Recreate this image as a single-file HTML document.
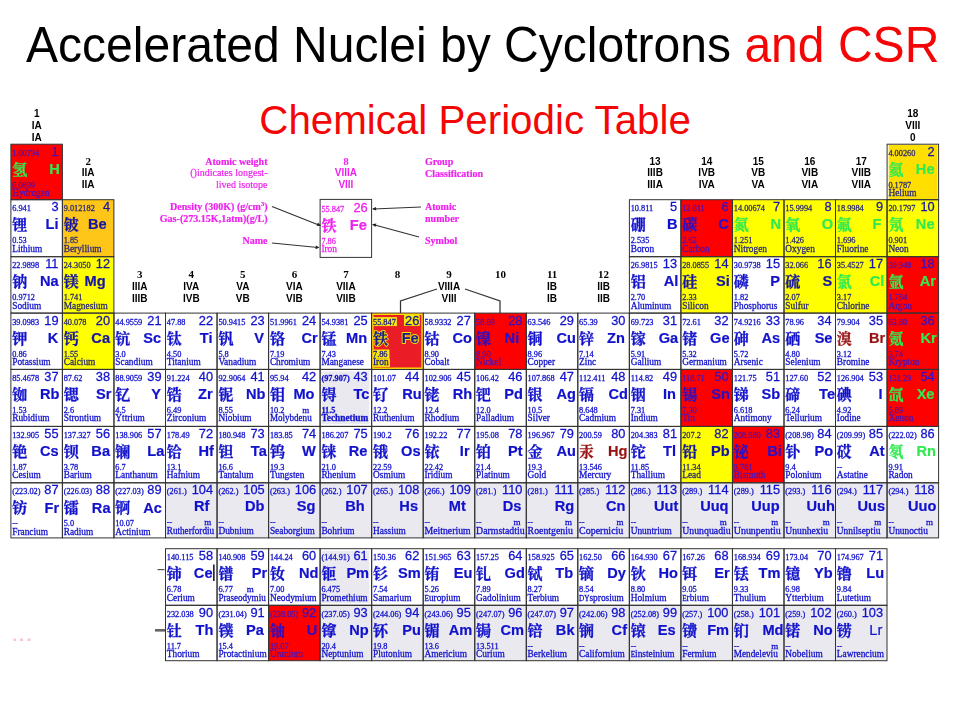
<!DOCTYPE html>
<html><head><meta charset="utf-8"><title>Accelerated Nuclei by Cyclotrons and CSR</title>
<style>
html,body{margin:0;padding:0;background:#fff;}
body{width:960px;height:720px;position:relative;overflow:hidden;font-family:"Liberation Sans",sans-serif;}
.t{position:absolute;white-space:nowrap;line-height:1;}
</style></head><body>
<div class="t" style="left:25.7px;top:20.3px;font-size:49.5px;color:#000;transform-origin:0 0;transform:scaleX(0.9707)">Accelerated Nuclei by Cyclotrons <span style="color:#f40606">and CSR</span></div>
<div class="t" style="left:259.3px;top:101.2px;font-size:40.3px;color:#f40606;">Chemical Periodic Table</div>
<svg width="960" height="720" viewBox="0 0 960 720" style="position:absolute;left:0;top:0;filter:blur(0.4px)"><rect x="10.9" y="144.2" width="51.5" height="55.5" fill="#ff0000"/><rect x="888.7" y="144.8" width="48.9" height="54.3" fill="#ffdf00"/><rect x="62.4" y="199.7" width="51.5" height="57" fill="#ffc61a"/><rect x="680.9" y="199.7" width="51.5" height="57" fill="#ff0000"/><rect x="732.5" y="199.7" width="51.5" height="57" fill="#ffff00"/><rect x="784" y="199.7" width="51.5" height="57" fill="#ffff00"/><rect x="835.5" y="199.7" width="51.5" height="57" fill="#ffff00"/><rect x="887.1" y="199.7" width="51.5" height="57" fill="#ffff00"/><rect x="62.4" y="256.7" width="51.5" height="56.4" fill="#ffff00"/><rect x="680.9" y="256.7" width="51.5" height="56.4" fill="#ffff00"/><rect x="784" y="256.7" width="51.5" height="56.4" fill="#ffff00"/><rect x="835.5" y="256.7" width="51.5" height="56.4" fill="#ffff00"/><rect x="887.1" y="256.7" width="51.5" height="56.4" fill="#ff0000"/><rect x="62.4" y="313.1" width="51.5" height="56.3" fill="#ffff00"/><rect x="371.7" y="313.1" width="51.5" height="56.3" fill="#ea1c26"/><rect x="474.8" y="313.1" width="51.5" height="56.3" fill="#ff0000"/><rect x="887.1" y="313.1" width="51.5" height="56.3" fill="#ff0000"/><rect x="321.5" y="371.4" width="47.9" height="52.8" fill="#eae9f0"/><rect x="680.9" y="369.4" width="51.5" height="57" fill="#ff0000"/><rect x="887.1" y="369.4" width="51.5" height="57" fill="#ff0000"/><rect x="680.9" y="426.4" width="51.5" height="56.4" fill="#ffff00"/><rect x="732.5" y="426.4" width="51.5" height="56.4" fill="#ff0000"/><rect x="165.5" y="482.8" width="51.5" height="55.1" fill="#eae9f0"/><rect x="217.1" y="482.8" width="51.5" height="55.1" fill="#eae9f0"/><rect x="268.6" y="482.8" width="51.5" height="55.1" fill="#eae9f0"/><rect x="320.1" y="482.8" width="51.5" height="55.1" fill="#eae9f0"/><rect x="371.7" y="482.8" width="51.5" height="55.1" fill="#eae9f0"/><rect x="423.2" y="482.8" width="51.5" height="55.1" fill="#eae9f0"/><rect x="474.8" y="482.8" width="51.5" height="55.1" fill="#eae9f0"/><rect x="526.3" y="482.8" width="51.5" height="55.1" fill="#eae9f0"/><rect x="577.8" y="482.8" width="51.5" height="55.1" fill="#eae9f0"/><rect x="629.4" y="482.8" width="51.5" height="55.1" fill="#eae9f0"/><rect x="680.9" y="482.8" width="51.5" height="55.1" fill="#eae9f0"/><rect x="732.5" y="482.8" width="51.5" height="55.1" fill="#eae9f0"/><rect x="784" y="482.8" width="51.5" height="55.1" fill="#eae9f0"/><rect x="835.5" y="482.8" width="51.5" height="55.1" fill="#eae9f0"/><rect x="887.1" y="482.8" width="51.5" height="55.1" fill="#eae9f0"/><rect x="321.5" y="550.7" width="47.9" height="52.4" fill="#eae9f0"/><rect x="268.6" y="605.3" width="51.5" height="55.4" fill="#ff0000"/><rect x="320.1" y="605.3" width="51.5" height="55.4" fill="#eae9f0"/><rect x="371.7" y="605.3" width="51.5" height="55.4" fill="#eae9f0"/><rect x="423.2" y="605.3" width="51.5" height="55.4" fill="#eae9f0"/><rect x="474.8" y="605.3" width="51.5" height="55.4" fill="#eae9f0"/><rect x="526.3" y="605.3" width="51.5" height="55.4" fill="#eae9f0"/><rect x="577.8" y="605.3" width="51.5" height="55.4" fill="#eae9f0"/><rect x="629.4" y="605.3" width="51.5" height="55.4" fill="#eae9f0"/><rect x="680.9" y="605.3" width="51.5" height="55.4" fill="#eae9f0"/><rect x="732.5" y="605.3" width="51.5" height="55.4" fill="#eae9f0"/><rect x="784" y="605.3" width="51.5" height="55.4" fill="#eae9f0"/><rect x="835.5" y="605.3" width="51.5" height="55.4" fill="#eae9f0"/><g fill="none" stroke="#333333" stroke-width="1"><rect x="10.9" y="144.2" width="51.5" height="55.5"/><rect x="887.1" y="144.2" width="51.5" height="55.5"/><rect x="10.9" y="199.7" width="51.5" height="57"/><rect x="62.4" y="199.7" width="51.5" height="57"/><rect x="629.4" y="199.7" width="51.5" height="57"/><rect x="680.9" y="199.7" width="51.5" height="57"/><rect x="732.5" y="199.7" width="51.5" height="57"/><rect x="784" y="199.7" width="51.5" height="57"/><rect x="835.5" y="199.7" width="51.5" height="57"/><rect x="887.1" y="199.7" width="51.5" height="57"/><rect x="10.9" y="256.7" width="51.5" height="56.4"/><rect x="62.4" y="256.7" width="51.5" height="56.4"/><rect x="629.4" y="256.7" width="51.5" height="56.4"/><rect x="680.9" y="256.7" width="51.5" height="56.4"/><rect x="732.5" y="256.7" width="51.5" height="56.4"/><rect x="784" y="256.7" width="51.5" height="56.4"/><rect x="835.5" y="256.7" width="51.5" height="56.4"/><rect x="887.1" y="256.7" width="51.5" height="56.4"/><rect x="10.9" y="313.1" width="51.5" height="56.3"/><rect x="62.4" y="313.1" width="51.5" height="56.3"/><rect x="114" y="313.1" width="51.5" height="56.3"/><rect x="165.5" y="313.1" width="51.5" height="56.3"/><rect x="217.1" y="313.1" width="51.5" height="56.3"/><rect x="268.6" y="313.1" width="51.5" height="56.3"/><rect x="320.1" y="313.1" width="51.5" height="56.3"/><rect x="371.7" y="313.1" width="51.5" height="56.3"/><rect x="423.2" y="313.1" width="51.5" height="56.3"/><rect x="474.8" y="313.1" width="51.5" height="56.3"/><rect x="526.3" y="313.1" width="51.5" height="56.3"/><rect x="577.8" y="313.1" width="51.5" height="56.3"/><rect x="629.4" y="313.1" width="51.5" height="56.3"/><rect x="680.9" y="313.1" width="51.5" height="56.3"/><rect x="732.5" y="313.1" width="51.5" height="56.3"/><rect x="784" y="313.1" width="51.5" height="56.3"/><rect x="835.5" y="313.1" width="51.5" height="56.3"/><rect x="887.1" y="313.1" width="51.5" height="56.3"/><rect x="10.9" y="369.4" width="51.5" height="57"/><rect x="62.4" y="369.4" width="51.5" height="57"/><rect x="114" y="369.4" width="51.5" height="57"/><rect x="165.5" y="369.4" width="51.5" height="57"/><rect x="217.1" y="369.4" width="51.5" height="57"/><rect x="268.6" y="369.4" width="51.5" height="57"/><rect x="320.1" y="369.4" width="51.5" height="57"/><rect x="371.7" y="369.4" width="51.5" height="57"/><rect x="423.2" y="369.4" width="51.5" height="57"/><rect x="474.8" y="369.4" width="51.5" height="57"/><rect x="526.3" y="369.4" width="51.5" height="57"/><rect x="577.8" y="369.4" width="51.5" height="57"/><rect x="629.4" y="369.4" width="51.5" height="57"/><rect x="680.9" y="369.4" width="51.5" height="57"/><rect x="732.5" y="369.4" width="51.5" height="57"/><rect x="784" y="369.4" width="51.5" height="57"/><rect x="835.5" y="369.4" width="51.5" height="57"/><rect x="887.1" y="369.4" width="51.5" height="57"/><rect x="10.9" y="426.4" width="51.5" height="56.4"/><rect x="62.4" y="426.4" width="51.5" height="56.4"/><rect x="114" y="426.4" width="51.5" height="56.4"/><rect x="165.5" y="426.4" width="51.5" height="56.4"/><rect x="217.1" y="426.4" width="51.5" height="56.4"/><rect x="268.6" y="426.4" width="51.5" height="56.4"/><rect x="320.1" y="426.4" width="51.5" height="56.4"/><rect x="371.7" y="426.4" width="51.5" height="56.4"/><rect x="423.2" y="426.4" width="51.5" height="56.4"/><rect x="474.8" y="426.4" width="51.5" height="56.4"/><rect x="526.3" y="426.4" width="51.5" height="56.4"/><rect x="577.8" y="426.4" width="51.5" height="56.4"/><rect x="629.4" y="426.4" width="51.5" height="56.4"/><rect x="680.9" y="426.4" width="51.5" height="56.4"/><rect x="732.5" y="426.4" width="51.5" height="56.4"/><rect x="784" y="426.4" width="51.5" height="56.4"/><rect x="835.5" y="426.4" width="51.5" height="56.4"/><rect x="887.1" y="426.4" width="51.5" height="56.4"/><rect x="10.9" y="482.8" width="51.5" height="55.1"/><rect x="62.4" y="482.8" width="51.5" height="55.1"/><rect x="114" y="482.8" width="51.5" height="55.1"/><rect x="165.5" y="482.8" width="51.5" height="55.1"/><rect x="217.1" y="482.8" width="51.5" height="55.1"/><rect x="268.6" y="482.8" width="51.5" height="55.1"/><rect x="320.1" y="482.8" width="51.5" height="55.1"/><rect x="371.7" y="482.8" width="51.5" height="55.1"/><rect x="423.2" y="482.8" width="51.5" height="55.1"/><rect x="474.8" y="482.8" width="51.5" height="55.1"/><rect x="526.3" y="482.8" width="51.5" height="55.1"/><rect x="577.8" y="482.8" width="51.5" height="55.1"/><rect x="629.4" y="482.8" width="51.5" height="55.1"/><rect x="680.9" y="482.8" width="51.5" height="55.1"/><rect x="732.5" y="482.8" width="51.5" height="55.1"/><rect x="784" y="482.8" width="51.5" height="55.1"/><rect x="835.5" y="482.8" width="51.5" height="55.1"/><rect x="887.1" y="482.8" width="51.5" height="55.1"/><rect x="165.5" y="548.7" width="51.5" height="56.6"/><rect x="217.1" y="548.7" width="51.5" height="56.6"/><rect x="268.6" y="548.7" width="51.5" height="56.6"/><rect x="320.1" y="548.7" width="51.5" height="56.6"/><rect x="371.7" y="548.7" width="51.5" height="56.6"/><rect x="423.2" y="548.7" width="51.5" height="56.6"/><rect x="474.8" y="548.7" width="51.5" height="56.6"/><rect x="526.3" y="548.7" width="51.5" height="56.6"/><rect x="577.8" y="548.7" width="51.5" height="56.6"/><rect x="629.4" y="548.7" width="51.5" height="56.6"/><rect x="680.9" y="548.7" width="51.5" height="56.6"/><rect x="732.5" y="548.7" width="51.5" height="56.6"/><rect x="784" y="548.7" width="51.5" height="56.6"/><rect x="835.5" y="548.7" width="51.5" height="56.6"/><rect x="165.5" y="605.3" width="51.5" height="55.4"/><rect x="217.1" y="605.3" width="51.5" height="55.4"/><rect x="268.6" y="605.3" width="51.5" height="55.4"/><rect x="320.1" y="605.3" width="51.5" height="55.4"/><rect x="371.7" y="605.3" width="51.5" height="55.4"/><rect x="423.2" y="605.3" width="51.5" height="55.4"/><rect x="474.8" y="605.3" width="51.5" height="55.4"/><rect x="526.3" y="605.3" width="51.5" height="55.4"/><rect x="577.8" y="605.3" width="51.5" height="55.4"/><rect x="629.4" y="605.3" width="51.5" height="55.4"/><rect x="680.9" y="605.3" width="51.5" height="55.4"/><rect x="732.5" y="605.3" width="51.5" height="55.4"/><rect x="784" y="605.3" width="51.5" height="55.4"/><rect x="835.5" y="605.3" width="51.5" height="55.4"/></g><rect x="372.9" y="314.3" width="49.1" height="53.9" fill="none" stroke="#f5e000" stroke-width="1.4"/><g fill="#4a14b8" stroke="#4a14b8" stroke-width="0.28"><text x="12.2" y="155.8" font-family="Liberation Serif" font-size="8.3">1.00794</text><text x="58.5" y="155.7" font-family="Liberation Sans" font-size="12.8" stroke-width="0.28" text-anchor="end" fill="#3a12c0" stroke="#3a12c0">1</text><text x="12.2" y="187.6" font-family="Liberation Serif" font-size="8.3">0.0899</text><text x="12.2" y="196" font-family="Liberation Serif" font-size="9.35">Hydrogen</text></g><g fill="#30ea50" stroke="#30ea50" stroke-width="0.2"><text x="59.8" y="173.9" font-family="Liberation Sans" font-size="14.6" font-weight="bold" text-anchor="end">H</text><text x="12.2" y="174.6" font-family="'Liberation Serif','Noto Serif CJK SC',serif" font-size="15" font-weight="bold" stroke-width="0.3">氢</text></g><g fill="#2a2a78" stroke="#2a2a78" stroke-width="0.28"><text x="888.4" y="155.8" font-family="Liberation Serif" font-size="8.3">4.00260</text><text x="934.7" y="155.7" font-family="Liberation Sans" font-size="12.8" stroke-width="0.28" text-anchor="end" fill="#1616a4" stroke="#1616a4">2</text><text x="888.4" y="187.6" font-family="Liberation Serif" font-size="8.3">0.1787</text><text x="888.4" y="196" font-family="Liberation Serif" font-size="9.35">Helium</text></g><g fill="#30ea50" stroke="#30ea50" stroke-width="0.2"><text x="934.5" y="173.9" font-family="Liberation Sans" font-size="14.6" font-weight="bold" text-anchor="end">He</text><text x="888.4" y="174.6" font-family="'Liberation Serif','Noto Serif CJK SC',serif" font-size="15" font-weight="bold" stroke-width="0.3">氦</text></g><g fill="#1212cc" stroke="#1212cc" stroke-width="0.28"><text x="12.2" y="211.3" font-family="Liberation Serif" font-size="8.3">6.941</text><text x="58.5" y="211.2" font-family="Liberation Sans" font-size="12.8" stroke-width="0.28" text-anchor="end" fill="#1212cc" stroke="#1212cc">3</text><text x="12.2" y="243.1" font-family="Liberation Serif" font-size="8.3">0.53</text><text x="12.2" y="251.5" font-family="Liberation Serif" font-size="9.35">Lithium</text></g><g fill="#1212cc" stroke="#1212cc" stroke-width="0.2"><text x="58.6" y="229.4" font-family="Liberation Sans" font-size="14.6" font-weight="bold" text-anchor="end">Li</text><text x="12.2" y="230.1" font-family="'Liberation Serif','Noto Serif CJK SC',serif" font-size="15" font-weight="bold" stroke-width="0.3">锂</text></g><g fill="#2a2a78" stroke="#2a2a78" stroke-width="0.28"><text x="63.7" y="211.3" font-family="Liberation Serif" font-size="8.3">9.012182</text><text x="110" y="211.2" font-family="Liberation Sans" font-size="12.8" stroke-width="0.28" text-anchor="end" fill="#1616a4" stroke="#1616a4">4</text><text x="63.7" y="243.1" font-family="Liberation Serif" font-size="8.3">1.85</text><text x="63.7" y="251.5" font-family="Liberation Serif" font-size="9.35">Beryllium</text></g><g fill="#1616a4" stroke="#1616a4" stroke-width="0.2"><text x="106.6" y="229.4" font-family="Liberation Sans" font-size="14.6" font-weight="bold" text-anchor="end">Be</text><text x="63.7" y="230.1" font-family="'Liberation Serif','Noto Serif CJK SC',serif" font-size="15" font-weight="bold" stroke-width="0.3">铍</text></g><g fill="#1212cc" stroke="#1212cc" stroke-width="0.28"><text x="630.7" y="211.3" font-family="Liberation Serif" font-size="8.3">10.811</text><text x="677" y="211.2" font-family="Liberation Sans" font-size="12.8" stroke-width="0.28" text-anchor="end" fill="#1212cc" stroke="#1212cc">5</text><text x="630.7" y="243.1" font-family="Liberation Serif" font-size="8.3">2.535</text><text x="630.7" y="251.5" font-family="Liberation Serif" font-size="9.35">Boron</text></g><g fill="#1212cc" stroke="#1212cc" stroke-width="0.2"><text x="677.5" y="229.4" font-family="Liberation Sans" font-size="14.6" font-weight="bold" text-anchor="end">B</text><text x="630.7" y="230.1" font-family="'Liberation Serif','Noto Serif CJK SC',serif" font-size="15" font-weight="bold" stroke-width="0.3">硼</text></g><g fill="#4a14b8" stroke="#4a14b8" stroke-width="0.28"><text x="682.2" y="211.3" font-family="Liberation Serif" font-size="8.3">12.011</text><text x="728.5" y="211.2" font-family="Liberation Sans" font-size="12.8" stroke-width="0.28" text-anchor="end" fill="#3a12c0" stroke="#3a12c0">6</text><text x="682.2" y="243.1" font-family="Liberation Serif" font-size="8.3">2.62</text><text x="682.2" y="251.5" font-family="Liberation Serif" font-size="9.35">Carbon</text></g><g fill="#2c10c4" stroke="#2c10c4" stroke-width="0.2"><text x="728.8" y="229.4" font-family="Liberation Sans" font-size="14.6" font-weight="bold" text-anchor="end">C</text><text x="682.2" y="230.1" font-family="'Liberation Serif','Noto Serif CJK SC',serif" font-size="15" font-weight="bold" stroke-width="0.3">碳</text></g><g fill="#2a2a78" stroke="#2a2a78" stroke-width="0.28"><text x="733.8" y="211.3" font-family="Liberation Serif" font-size="8.3">14.00674</text><text x="780.1" y="211.2" font-family="Liberation Sans" font-size="12.8" stroke-width="0.28" text-anchor="end" fill="#1616a4" stroke="#1616a4">7</text><text x="733.8" y="243.1" font-family="Liberation Serif" font-size="8.3">1.251</text><text x="733.8" y="251.5" font-family="Liberation Serif" font-size="9.35">Nitrogen</text></g><g fill="#30ea50" stroke="#30ea50" stroke-width="0.2"><text x="781" y="229.4" font-family="Liberation Sans" font-size="14.6" font-weight="bold" text-anchor="end">N</text><text x="733.8" y="230.1" font-family="'Liberation Serif','Noto Serif CJK SC',serif" font-size="15" font-weight="bold" stroke-width="0.3">氮</text></g><g fill="#2a2a78" stroke="#2a2a78" stroke-width="0.28"><text x="785.3" y="211.3" font-family="Liberation Serif" font-size="8.3">15.9994</text><text x="831.6" y="211.2" font-family="Liberation Sans" font-size="12.8" stroke-width="0.28" text-anchor="end" fill="#1616a4" stroke="#1616a4">8</text><text x="785.3" y="243.1" font-family="Liberation Serif" font-size="8.3">1.426</text><text x="785.3" y="251.5" font-family="Liberation Serif" font-size="9.35">Oxygen</text></g><g fill="#30ea50" stroke="#30ea50" stroke-width="0.2"><text x="833.2" y="229.4" font-family="Liberation Sans" font-size="14.6" font-weight="bold" text-anchor="end">O</text><text x="785.3" y="230.1" font-family="'Liberation Serif','Noto Serif CJK SC',serif" font-size="15" font-weight="bold" stroke-width="0.3">氧</text></g><g fill="#2a2a78" stroke="#2a2a78" stroke-width="0.28"><text x="836.8" y="211.3" font-family="Liberation Serif" font-size="8.3">18.9984</text><text x="883.1" y="211.2" font-family="Liberation Sans" font-size="12.8" stroke-width="0.28" text-anchor="end" fill="#1616a4" stroke="#1616a4">9</text><text x="836.8" y="243.1" font-family="Liberation Serif" font-size="8.3">1.696</text><text x="836.8" y="251.5" font-family="Liberation Serif" font-size="9.35">Fluorine</text></g><g fill="#30ea50" stroke="#30ea50" stroke-width="0.2"><text x="881.3" y="229.4" font-family="Liberation Sans" font-size="14.6" font-weight="bold" text-anchor="end">F</text><text x="836.8" y="230.1" font-family="'Liberation Serif','Noto Serif CJK SC',serif" font-size="15" font-weight="bold" stroke-width="0.3">氟</text></g><g fill="#2a2a78" stroke="#2a2a78" stroke-width="0.28"><text x="888.4" y="211.3" font-family="Liberation Serif" font-size="8.3">20.1797</text><text x="934.7" y="211.2" font-family="Liberation Sans" font-size="12.8" stroke-width="0.28" text-anchor="end" fill="#1616a4" stroke="#1616a4">10</text><text x="888.4" y="243.1" font-family="Liberation Serif" font-size="8.3">0.901</text><text x="888.4" y="251.5" font-family="Liberation Serif" font-size="9.35">Neon</text></g><g fill="#30ea50" stroke="#30ea50" stroke-width="0.2"><text x="934.5" y="229.4" font-family="Liberation Sans" font-size="14.6" font-weight="bold" text-anchor="end">Ne</text><text x="888.4" y="230.1" font-family="'Liberation Serif','Noto Serif CJK SC',serif" font-size="15" font-weight="bold" stroke-width="0.3">氖</text></g><g fill="#1212cc" stroke="#1212cc" stroke-width="0.28"><text x="12.2" y="268.3" font-family="Liberation Serif" font-size="8.3">22.9898</text><text x="58.5" y="268.2" font-family="Liberation Sans" font-size="12.8" stroke-width="0.28" text-anchor="end" fill="#1212cc" stroke="#1212cc">11</text><text x="12.2" y="300.1" font-family="Liberation Serif" font-size="8.3">0.9712</text><text x="12.2" y="308.5" font-family="Liberation Serif" font-size="9.35">Sodium</text></g><g fill="#1212cc" stroke="#1212cc" stroke-width="0.2"><text x="58.7" y="286.4" font-family="Liberation Sans" font-size="14.6" font-weight="bold" text-anchor="end">Na</text><text x="12.2" y="287.1" font-family="'Liberation Serif','Noto Serif CJK SC',serif" font-size="15" font-weight="bold" stroke-width="0.3">钠</text></g><g fill="#2a2a78" stroke="#2a2a78" stroke-width="0.28"><text x="63.7" y="268.3" font-family="Liberation Serif" font-size="8.3">24.3050</text><text x="110" y="268.2" font-family="Liberation Sans" font-size="12.8" stroke-width="0.28" text-anchor="end" fill="#1616a4" stroke="#1616a4">12</text><text x="63.7" y="300.1" font-family="Liberation Serif" font-size="8.3">1.741</text><text x="63.7" y="308.5" font-family="Liberation Serif" font-size="9.35">Magnesium</text></g><g fill="#1616a4" stroke="#1616a4" stroke-width="0.2"><text x="105.6" y="286.4" font-family="Liberation Sans" font-size="14.6" font-weight="bold" text-anchor="end">Mg</text><text x="63.7" y="287.1" font-family="'Liberation Serif','Noto Serif CJK SC',serif" font-size="15" font-weight="bold" stroke-width="0.3">镁</text></g><g fill="#1212cc" stroke="#1212cc" stroke-width="0.28"><text x="630.7" y="268.3" font-family="Liberation Serif" font-size="8.3">26.9815</text><text x="677" y="268.2" font-family="Liberation Sans" font-size="12.8" stroke-width="0.28" text-anchor="end" fill="#1212cc" stroke="#1212cc">13</text><text x="630.7" y="300.1" font-family="Liberation Serif" font-size="8.3">2.70</text><text x="630.7" y="308.5" font-family="Liberation Serif" font-size="9.35">Aluminum</text></g><g fill="#1212cc" stroke="#1212cc" stroke-width="0.2"><text x="678.4" y="286.4" font-family="Liberation Sans" font-size="14.6" font-weight="bold" text-anchor="end">Al</text><text x="630.7" y="287.1" font-family="'Liberation Serif','Noto Serif CJK SC',serif" font-size="15" font-weight="bold" stroke-width="0.3">铝</text></g><g fill="#2a2a78" stroke="#2a2a78" stroke-width="0.28"><text x="682.2" y="268.3" font-family="Liberation Serif" font-size="8.3">28.0855</text><text x="728.5" y="268.2" font-family="Liberation Sans" font-size="12.8" stroke-width="0.28" text-anchor="end" fill="#1616a4" stroke="#1616a4">14</text><text x="682.2" y="300.1" font-family="Liberation Serif" font-size="8.3">2.33</text><text x="682.2" y="308.5" font-family="Liberation Serif" font-size="9.35">Silicon</text></g><g fill="#1616a4" stroke="#1616a4" stroke-width="0.2"><text x="729.9" y="286.4" font-family="Liberation Sans" font-size="14.6" font-weight="bold" text-anchor="end">Si</text><text x="682.2" y="287.1" font-family="'Liberation Serif','Noto Serif CJK SC',serif" font-size="15" font-weight="bold" stroke-width="0.3">硅</text></g><g fill="#1212cc" stroke="#1212cc" stroke-width="0.28"><text x="733.8" y="268.3" font-family="Liberation Serif" font-size="8.3">30.9738</text><text x="780.1" y="268.2" font-family="Liberation Sans" font-size="12.8" stroke-width="0.28" text-anchor="end" fill="#1212cc" stroke="#1212cc">15</text><text x="733.8" y="300.1" font-family="Liberation Serif" font-size="8.3">1.82</text><text x="733.8" y="308.5" font-family="Liberation Serif" font-size="9.35">Phosphorus</text></g><g fill="#1212cc" stroke="#1212cc" stroke-width="0.2"><text x="779.9" y="286.4" font-family="Liberation Sans" font-size="14.6" font-weight="bold" text-anchor="end">P</text><text x="733.8" y="287.1" font-family="'Liberation Serif','Noto Serif CJK SC',serif" font-size="15" font-weight="bold" stroke-width="0.3">磷</text></g><g fill="#2a2a78" stroke="#2a2a78" stroke-width="0.28"><text x="785.3" y="268.3" font-family="Liberation Serif" font-size="8.3">32.066</text><text x="831.6" y="268.2" font-family="Liberation Sans" font-size="12.8" stroke-width="0.28" text-anchor="end" fill="#1616a4" stroke="#1616a4">16</text><text x="785.3" y="300.1" font-family="Liberation Serif" font-size="8.3">2.07</text><text x="785.3" y="308.5" font-family="Liberation Serif" font-size="9.35">Sulfur</text></g><g fill="#1616a4" stroke="#1616a4" stroke-width="0.2"><text x="832.3" y="286.4" font-family="Liberation Sans" font-size="14.6" font-weight="bold" text-anchor="end">S</text><text x="785.3" y="287.1" font-family="'Liberation Serif','Noto Serif CJK SC',serif" font-size="15" font-weight="bold" stroke-width="0.3">硫</text></g><g fill="#2a2a78" stroke="#2a2a78" stroke-width="0.28"><text x="836.8" y="268.3" font-family="Liberation Serif" font-size="8.3">35.4527</text><text x="883.1" y="268.2" font-family="Liberation Sans" font-size="12.8" stroke-width="0.28" text-anchor="end" fill="#1616a4" stroke="#1616a4">17</text><text x="836.8" y="300.1" font-family="Liberation Serif" font-size="8.3">3.17</text><text x="836.8" y="308.5" font-family="Liberation Serif" font-size="9.35">Chlorine</text></g><g fill="#30ea50" stroke="#30ea50" stroke-width="0.2"><text x="884.3" y="286.4" font-family="Liberation Sans" font-size="14.6" font-weight="bold" text-anchor="end">Cl</text><text x="836.8" y="287.1" font-family="'Liberation Serif','Noto Serif CJK SC',serif" font-size="15" font-weight="bold" stroke-width="0.3">氯</text></g><g fill="#4a14b8" stroke="#4a14b8" stroke-width="0.28"><text x="888.4" y="268.3" font-family="Liberation Serif" font-size="8.3">39.948</text><text x="934.7" y="268.2" font-family="Liberation Sans" font-size="12.8" stroke-width="0.28" text-anchor="end" fill="#3a12c0" stroke="#3a12c0">18</text><text x="888.4" y="300.1" font-family="Liberation Serif" font-size="8.3">1.784</text><text x="888.4" y="308.5" font-family="Liberation Serif" font-size="9.35">Argon</text></g><g fill="#30ea50" stroke="#30ea50" stroke-width="0.2"><text x="936" y="286.4" font-family="Liberation Sans" font-size="14.6" font-weight="bold" text-anchor="end">Ar</text><text x="888.4" y="287.1" font-family="'Liberation Serif','Noto Serif CJK SC',serif" font-size="15" font-weight="bold" stroke-width="0.3">氩</text></g><g fill="#1212cc" stroke="#1212cc" stroke-width="0.28"><text x="12.2" y="324.7" font-family="Liberation Serif" font-size="8.3">39.0983</text><text x="58.5" y="324.6" font-family="Liberation Sans" font-size="12.8" stroke-width="0.28" text-anchor="end" fill="#1212cc" stroke="#1212cc">19</text><text x="12.2" y="356.5" font-family="Liberation Serif" font-size="8.3">0.86</text><text x="12.2" y="364.9" font-family="Liberation Serif" font-size="9.35">Potassium</text></g><g fill="#1212cc" stroke="#1212cc" stroke-width="0.2"><text x="58.2" y="342.8" font-family="Liberation Sans" font-size="14.6" font-weight="bold" text-anchor="end">K</text><text x="12.2" y="343.5" font-family="'Liberation Serif','Noto Serif CJK SC',serif" font-size="15" font-weight="bold" stroke-width="0.3">钾</text></g><g fill="#2a2a78" stroke="#2a2a78" stroke-width="0.28"><text x="63.7" y="324.7" font-family="Liberation Serif" font-size="8.3">40.078</text><text x="110" y="324.6" font-family="Liberation Sans" font-size="12.8" stroke-width="0.28" text-anchor="end" fill="#1616a4" stroke="#1616a4">20</text><text x="63.7" y="356.5" font-family="Liberation Serif" font-size="8.3">1.55</text><text x="63.7" y="364.9" font-family="Liberation Serif" font-size="9.35">Calcium</text></g><g fill="#1616a4" stroke="#1616a4" stroke-width="0.2"><text x="110" y="342.8" font-family="Liberation Sans" font-size="14.6" font-weight="bold" text-anchor="end">Ca</text><text x="63.7" y="343.5" font-family="'Liberation Serif','Noto Serif CJK SC',serif" font-size="15" font-weight="bold" stroke-width="0.3">钙</text></g><g fill="#1212cc" stroke="#1212cc" stroke-width="0.28"><text x="115.3" y="324.7" font-family="Liberation Serif" font-size="8.3">44.9559</text><text x="161.6" y="324.6" font-family="Liberation Sans" font-size="12.8" stroke-width="0.28" text-anchor="end" fill="#1212cc" stroke="#1212cc">21</text><text x="115.3" y="356.5" font-family="Liberation Serif" font-size="8.3">3.0</text><text x="115.3" y="364.9" font-family="Liberation Serif" font-size="9.35">Scandium</text></g><g fill="#1212cc" stroke="#1212cc" stroke-width="0.2"><text x="161.1" y="342.8" font-family="Liberation Sans" font-size="14.6" font-weight="bold" text-anchor="end">Sc</text><text x="115.3" y="343.5" font-family="'Liberation Serif','Noto Serif CJK SC',serif" font-size="15" font-weight="bold" stroke-width="0.3">钪</text></g><g fill="#1212cc" stroke="#1212cc" stroke-width="0.28"><text x="166.8" y="324.7" font-family="Liberation Serif" font-size="8.3">47.88</text><text x="213.1" y="324.6" font-family="Liberation Sans" font-size="12.8" stroke-width="0.28" text-anchor="end" fill="#1212cc" stroke="#1212cc">22</text><text x="166.8" y="356.5" font-family="Liberation Serif" font-size="8.3">4.50</text><text x="166.8" y="364.9" font-family="Liberation Serif" font-size="9.35">Titanium</text></g><g fill="#1212cc" stroke="#1212cc" stroke-width="0.2"><text x="212.5" y="342.8" font-family="Liberation Sans" font-size="14.6" font-weight="bold" text-anchor="end">Ti</text><text x="166.8" y="343.5" font-family="'Liberation Serif','Noto Serif CJK SC',serif" font-size="15" font-weight="bold" stroke-width="0.3">钛</text></g><g fill="#1212cc" stroke="#1212cc" stroke-width="0.28"><text x="218.4" y="324.7" font-family="Liberation Serif" font-size="8.3">50.9415</text><text x="264.7" y="324.6" font-family="Liberation Sans" font-size="12.8" stroke-width="0.28" text-anchor="end" fill="#1212cc" stroke="#1212cc">23</text><text x="218.4" y="356.5" font-family="Liberation Serif" font-size="8.3">5.8</text><text x="218.4" y="364.9" font-family="Liberation Serif" font-size="9.35">Vanadium</text></g><g fill="#1212cc" stroke="#1212cc" stroke-width="0.2"><text x="264" y="342.8" font-family="Liberation Sans" font-size="14.6" font-weight="bold" text-anchor="end">V</text><text x="218.4" y="343.5" font-family="'Liberation Serif','Noto Serif CJK SC',serif" font-size="15" font-weight="bold" stroke-width="0.3">钒</text></g><g fill="#1212cc" stroke="#1212cc" stroke-width="0.28"><text x="269.9" y="324.7" font-family="Liberation Serif" font-size="8.3">51.9961</text><text x="316.2" y="324.6" font-family="Liberation Sans" font-size="12.8" stroke-width="0.28" text-anchor="end" fill="#1212cc" stroke="#1212cc">24</text><text x="269.9" y="356.5" font-family="Liberation Serif" font-size="8.3">7.19</text><text x="269.9" y="364.9" font-family="Liberation Serif" font-size="9.35">Chromium</text></g><g fill="#1212cc" stroke="#1212cc" stroke-width="0.2"><text x="317.6" y="342.8" font-family="Liberation Sans" font-size="14.6" font-weight="bold" text-anchor="end">Cr</text><text x="269.9" y="343.5" font-family="'Liberation Serif','Noto Serif CJK SC',serif" font-size="15" font-weight="bold" stroke-width="0.3">铬</text></g><g fill="#1212cc" stroke="#1212cc" stroke-width="0.28"><text x="321.4" y="324.7" font-family="Liberation Serif" font-size="8.3">54.9381</text><text x="367.7" y="324.6" font-family="Liberation Sans" font-size="12.8" stroke-width="0.28" text-anchor="end" fill="#1212cc" stroke="#1212cc">25</text><text x="321.4" y="356.5" font-family="Liberation Serif" font-size="8.3">7.43</text><text x="321.4" y="364.9" font-family="Liberation Serif" font-size="9.35">Manganese</text></g><g fill="#1212cc" stroke="#1212cc" stroke-width="0.2"><text x="367.1" y="342.8" font-family="Liberation Sans" font-size="14.6" font-weight="bold" text-anchor="end">Mn</text><text x="321.4" y="343.5" font-family="'Liberation Serif','Noto Serif CJK SC',serif" font-size="15" font-weight="bold" stroke-width="0.3">锰</text></g><g fill="#f6e81c"><rect x="372.9" y="317.1" width="24" height="9"/><rect x="404" y="314.7" width="15.6" height="11.2"/><rect x="372.9" y="349.5" width="16.5" height="8.8"/><rect x="372.9" y="358.3" width="17" height="8.6"/></g><g fill="#f8e400" stroke="#f8e400" stroke-width="1.9" stroke-linejoin="round"><text x="373" y="324.7" font-family="Liberation Serif" font-size="8.3">55.847</text><text x="419.3" y="324.6" font-family="Liberation Sans" font-size="12.8" stroke-width="2" text-anchor="end" fill="#f8e400" stroke="#f8e400">26</text><text x="373" y="356.5" font-family="Liberation Serif" font-size="8.3">7.86</text><text x="373" y="364.9" font-family="Liberation Serif" font-size="9.35">Iron</text></g><g fill="#f8e400" stroke="#f8e400" stroke-width="1.9" stroke-linejoin="round"><text x="418.7" y="342.8" font-family="Liberation Sans" font-size="14.6" font-weight="bold" text-anchor="end">Fe</text><text x="373" y="343.5" font-family="'Liberation Serif','Noto Serif CJK SC',serif" font-size="15" font-weight="bold" stroke-width="2">铁</text></g><g fill="#1a1a90" stroke="#1a1a90" stroke-width="0.28"><text x="373" y="324.7" font-family="Liberation Serif" font-size="8.3">55.847</text><text x="419.3" y="324.6" font-family="Liberation Sans" font-size="12.8" stroke-width="0.28" text-anchor="end" fill="#1a1a90" stroke="#1a1a90">26</text><text x="373" y="356.5" font-family="Liberation Serif" font-size="8.3">7.86</text><text x="373" y="364.9" font-family="Liberation Serif" font-size="9.35">Iron</text></g><g fill="#1a1a90" stroke="#1a1a90" stroke-width="0.2"><text x="418.7" y="342.8" font-family="Liberation Sans" font-size="14.6" font-weight="bold" text-anchor="end">Fe</text><text x="373" y="343.5" font-family="'Liberation Serif','Noto Serif CJK SC',serif" font-size="15" font-weight="bold" stroke-width="0.3">铁</text></g><g fill="#1212cc" stroke="#1212cc" stroke-width="0.28"><text x="424.5" y="324.7" font-family="Liberation Serif" font-size="8.3">58.9332</text><text x="470.8" y="324.6" font-family="Liberation Sans" font-size="12.8" stroke-width="0.28" text-anchor="end" fill="#1212cc" stroke="#1212cc">27</text><text x="424.5" y="356.5" font-family="Liberation Serif" font-size="8.3">8.90</text><text x="424.5" y="364.9" font-family="Liberation Serif" font-size="9.35">Cobalt</text></g><g fill="#1212cc" stroke="#1212cc" stroke-width="0.2"><text x="472" y="342.8" font-family="Liberation Sans" font-size="14.6" font-weight="bold" text-anchor="end">Co</text><text x="424.5" y="343.5" font-family="'Liberation Serif','Noto Serif CJK SC',serif" font-size="15" font-weight="bold" stroke-width="0.3">钴</text></g><g fill="#4a14b8" stroke="#4a14b8" stroke-width="0.28"><text x="476.1" y="324.7" font-family="Liberation Serif" font-size="8.3">58.69</text><text x="522.4" y="324.6" font-family="Liberation Sans" font-size="12.8" stroke-width="0.28" text-anchor="end" fill="#3a12c0" stroke="#3a12c0">28</text><text x="476.1" y="356.5" font-family="Liberation Serif" font-size="8.3">8.90</text><text x="476.1" y="364.9" font-family="Liberation Serif" font-size="9.35">Nickel</text></g><g fill="#2c10c4" stroke="#2c10c4" stroke-width="0.2"><text x="519.2" y="342.8" font-family="Liberation Sans" font-size="14.6" font-weight="bold" text-anchor="end">Ni</text><text x="476.1" y="343.5" font-family="'Liberation Serif','Noto Serif CJK SC',serif" font-size="15" font-weight="bold" stroke-width="0.3">镍</text></g><g fill="#1212cc" stroke="#1212cc" stroke-width="0.28"><text x="527.6" y="324.7" font-family="Liberation Serif" font-size="8.3">63.546</text><text x="573.9" y="324.6" font-family="Liberation Sans" font-size="12.8" stroke-width="0.28" text-anchor="end" fill="#1212cc" stroke="#1212cc">29</text><text x="527.6" y="356.5" font-family="Liberation Serif" font-size="8.3">8.96</text><text x="527.6" y="364.9" font-family="Liberation Serif" font-size="9.35">Copper</text></g><g fill="#1212cc" stroke="#1212cc" stroke-width="0.2"><text x="576" y="342.8" font-family="Liberation Sans" font-size="14.6" font-weight="bold" text-anchor="end">Cu</text><text x="527.6" y="343.5" font-family="'Liberation Serif','Noto Serif CJK SC',serif" font-size="15" font-weight="bold" stroke-width="0.3">铜</text></g><g fill="#1212cc" stroke="#1212cc" stroke-width="0.28"><text x="579.1" y="324.7" font-family="Liberation Serif" font-size="8.3">65.39</text><text x="625.4" y="324.6" font-family="Liberation Sans" font-size="12.8" stroke-width="0.28" text-anchor="end" fill="#1212cc" stroke="#1212cc">30</text><text x="579.1" y="356.5" font-family="Liberation Serif" font-size="8.3">7.14</text><text x="579.1" y="364.9" font-family="Liberation Serif" font-size="9.35">Zinc</text></g><g fill="#1212cc" stroke="#1212cc" stroke-width="0.2"><text x="624.9" y="342.8" font-family="Liberation Sans" font-size="14.6" font-weight="bold" text-anchor="end">Zn</text><text x="579.1" y="343.5" font-family="'Liberation Serif','Noto Serif CJK SC',serif" font-size="15" font-weight="bold" stroke-width="0.3">锌</text></g><g fill="#1212cc" stroke="#1212cc" stroke-width="0.28"><text x="630.7" y="324.7" font-family="Liberation Serif" font-size="8.3">69.723</text><text x="677" y="324.6" font-family="Liberation Sans" font-size="12.8" stroke-width="0.28" text-anchor="end" fill="#1212cc" stroke="#1212cc">31</text><text x="630.7" y="356.5" font-family="Liberation Serif" font-size="8.3">5.91</text><text x="630.7" y="364.9" font-family="Liberation Serif" font-size="9.35">Gallium</text></g><g fill="#1212cc" stroke="#1212cc" stroke-width="0.2"><text x="678.1" y="342.8" font-family="Liberation Sans" font-size="14.6" font-weight="bold" text-anchor="end">Ga</text><text x="630.7" y="343.5" font-family="'Liberation Serif','Noto Serif CJK SC',serif" font-size="15" font-weight="bold" stroke-width="0.3">镓</text></g><g fill="#1212cc" stroke="#1212cc" stroke-width="0.28"><text x="682.2" y="324.7" font-family="Liberation Serif" font-size="8.3">72.61</text><text x="728.5" y="324.6" font-family="Liberation Sans" font-size="12.8" stroke-width="0.28" text-anchor="end" fill="#1212cc" stroke="#1212cc">32</text><text x="682.2" y="356.5" font-family="Liberation Serif" font-size="8.3">5.32</text><text x="682.2" y="364.9" font-family="Liberation Serif" font-size="9.35">Germanium</text></g><g fill="#1212cc" stroke="#1212cc" stroke-width="0.2"><text x="729.5" y="342.8" font-family="Liberation Sans" font-size="14.6" font-weight="bold" text-anchor="end">Ge</text><text x="682.2" y="343.5" font-family="'Liberation Serif','Noto Serif CJK SC',serif" font-size="15" font-weight="bold" stroke-width="0.3">锗</text></g><g fill="#1212cc" stroke="#1212cc" stroke-width="0.28"><text x="733.8" y="324.7" font-family="Liberation Serif" font-size="8.3">74.9216</text><text x="780.1" y="324.6" font-family="Liberation Sans" font-size="12.8" stroke-width="0.28" text-anchor="end" fill="#1212cc" stroke="#1212cc">33</text><text x="733.8" y="356.5" font-family="Liberation Serif" font-size="8.3">5.72</text><text x="733.8" y="364.9" font-family="Liberation Serif" font-size="9.35">Arsenic</text></g><g fill="#1212cc" stroke="#1212cc" stroke-width="0.2"><text x="780.1" y="342.8" font-family="Liberation Sans" font-size="14.6" font-weight="bold" text-anchor="end">As</text><text x="733.8" y="343.5" font-family="'Liberation Serif','Noto Serif CJK SC',serif" font-size="15" font-weight="bold" stroke-width="0.3">砷</text></g><g fill="#1212cc" stroke="#1212cc" stroke-width="0.28"><text x="785.3" y="324.7" font-family="Liberation Serif" font-size="8.3">78.96</text><text x="831.6" y="324.6" font-family="Liberation Sans" font-size="12.8" stroke-width="0.28" text-anchor="end" fill="#1212cc" stroke="#1212cc">34</text><text x="785.3" y="356.5" font-family="Liberation Serif" font-size="8.3">4.80</text><text x="785.3" y="364.9" font-family="Liberation Serif" font-size="9.35">Selenium</text></g><g fill="#1212cc" stroke="#1212cc" stroke-width="0.2"><text x="832.5" y="342.8" font-family="Liberation Sans" font-size="14.6" font-weight="bold" text-anchor="end">Se</text><text x="785.3" y="343.5" font-family="'Liberation Serif','Noto Serif CJK SC',serif" font-size="15" font-weight="bold" stroke-width="0.3">硒</text></g><g fill="#1212cc" stroke="#1212cc" stroke-width="0.28"><text x="836.8" y="324.7" font-family="Liberation Serif" font-size="8.3">79.904</text><text x="883.1" y="324.6" font-family="Liberation Sans" font-size="12.8" stroke-width="0.28" text-anchor="end" fill="#1212cc" stroke="#1212cc">35</text><text x="836.8" y="356.5" font-family="Liberation Serif" font-size="8.3">3.12</text><text x="836.8" y="364.9" font-family="Liberation Serif" font-size="9.35">Bromine</text></g><g fill="#991111" stroke="#991111" stroke-width="0.2"><text x="885.3" y="342.8" font-family="Liberation Sans" font-size="14.6" font-weight="bold" text-anchor="end">Br</text><text x="836.8" y="343.5" font-family="'Liberation Serif','Noto Serif CJK SC',serif" font-size="15" font-weight="bold" stroke-width="0.3">溴</text></g><g fill="#4a14b8" stroke="#4a14b8" stroke-width="0.28"><text x="888.4" y="324.7" font-family="Liberation Serif" font-size="8.3">83.80</text><text x="934.7" y="324.6" font-family="Liberation Sans" font-size="12.8" stroke-width="0.28" text-anchor="end" fill="#3a12c0" stroke="#3a12c0">36</text><text x="888.4" y="356.5" font-family="Liberation Serif" font-size="8.3">3.74</text><text x="888.4" y="364.9" font-family="Liberation Serif" font-size="9.35">Krypton</text></g><g fill="#30ea50" stroke="#30ea50" stroke-width="0.2"><text x="936.7" y="342.8" font-family="Liberation Sans" font-size="14.6" font-weight="bold" text-anchor="end">Kr</text><text x="888.4" y="343.5" font-family="'Liberation Serif','Noto Serif CJK SC',serif" font-size="15" font-weight="bold" stroke-width="0.3">氪</text></g><g fill="#1212cc" stroke="#1212cc" stroke-width="0.28"><text x="12.2" y="381" font-family="Liberation Serif" font-size="8.3">85.4678</text><text x="58.5" y="380.9" font-family="Liberation Sans" font-size="12.8" stroke-width="0.28" text-anchor="end" fill="#1212cc" stroke="#1212cc">37</text><text x="12.2" y="412.8" font-family="Liberation Serif" font-size="8.3">1.53</text><text x="12.2" y="421.2" font-family="Liberation Serif" font-size="9.35">Rubidium</text></g><g fill="#1212cc" stroke="#1212cc" stroke-width="0.2"><text x="59.4" y="399.1" font-family="Liberation Sans" font-size="14.6" font-weight="bold" text-anchor="end">Rb</text><text x="12.2" y="399.8" font-family="'Liberation Serif','Noto Serif CJK SC',serif" font-size="15" font-weight="bold" stroke-width="0.3">铷</text></g><g fill="#1212cc" stroke="#1212cc" stroke-width="0.28"><text x="63.7" y="381" font-family="Liberation Serif" font-size="8.3">87.62</text><text x="110" y="380.9" font-family="Liberation Sans" font-size="12.8" stroke-width="0.28" text-anchor="end" fill="#1212cc" stroke="#1212cc">38</text><text x="63.7" y="412.8" font-family="Liberation Serif" font-size="8.3">2.6</text><text x="63.7" y="421.2" font-family="Liberation Serif" font-size="9.35">Strontium</text></g><g fill="#1212cc" stroke="#1212cc" stroke-width="0.2"><text x="111.4" y="399.1" font-family="Liberation Sans" font-size="14.6" font-weight="bold" text-anchor="end">Sr</text><text x="63.7" y="399.8" font-family="'Liberation Serif','Noto Serif CJK SC',serif" font-size="15" font-weight="bold" stroke-width="0.3">锶</text></g><g fill="#1212cc" stroke="#1212cc" stroke-width="0.28"><text x="115.3" y="381" font-family="Liberation Serif" font-size="8.3">88.9059</text><text x="161.6" y="380.9" font-family="Liberation Sans" font-size="12.8" stroke-width="0.28" text-anchor="end" fill="#1212cc" stroke="#1212cc">39</text><text x="115.3" y="412.8" font-family="Liberation Serif" font-size="8.3">4.5</text><text x="115.3" y="421.2" font-family="Liberation Serif" font-size="9.35">Yttrium</text></g><g fill="#1212cc" stroke="#1212cc" stroke-width="0.2"><text x="160.9" y="399.1" font-family="Liberation Sans" font-size="14.6" font-weight="bold" text-anchor="end">Y</text><text x="115.3" y="399.8" font-family="'Liberation Serif','Noto Serif CJK SC',serif" font-size="15" font-weight="bold" stroke-width="0.3">钇</text></g><g fill="#1212cc" stroke="#1212cc" stroke-width="0.28"><text x="166.8" y="381" font-family="Liberation Serif" font-size="8.3">91.224</text><text x="213.1" y="380.9" font-family="Liberation Sans" font-size="12.8" stroke-width="0.28" text-anchor="end" fill="#1212cc" stroke="#1212cc">40</text><text x="166.8" y="412.8" font-family="Liberation Serif" font-size="8.3">6.49</text><text x="166.8" y="421.2" font-family="Liberation Serif" font-size="9.35">Zirconium</text></g><g fill="#1212cc" stroke="#1212cc" stroke-width="0.2"><text x="212.7" y="399.1" font-family="Liberation Sans" font-size="14.6" font-weight="bold" text-anchor="end">Zr</text><text x="166.8" y="399.8" font-family="'Liberation Serif','Noto Serif CJK SC',serif" font-size="15" font-weight="bold" stroke-width="0.3">锆</text></g><g fill="#1212cc" stroke="#1212cc" stroke-width="0.28"><text x="218.4" y="381" font-family="Liberation Serif" font-size="8.3">92.9064</text><text x="264.7" y="380.9" font-family="Liberation Sans" font-size="12.8" stroke-width="0.28" text-anchor="end" fill="#1212cc" stroke="#1212cc">41</text><text x="218.4" y="412.8" font-family="Liberation Serif" font-size="8.3">8.55</text><text x="218.4" y="421.2" font-family="Liberation Serif" font-size="9.35">Niobium</text></g><g fill="#1212cc" stroke="#1212cc" stroke-width="0.2"><text x="265.5" y="399.1" font-family="Liberation Sans" font-size="14.6" font-weight="bold" text-anchor="end">Nb</text><text x="218.4" y="399.8" font-family="'Liberation Serif','Noto Serif CJK SC',serif" font-size="15" font-weight="bold" stroke-width="0.3">铌</text></g><g fill="#1212cc" stroke="#1212cc" stroke-width="0.28"><text x="269.9" y="381" font-family="Liberation Serif" font-size="8.3">95.94</text><text x="316.2" y="380.9" font-family="Liberation Sans" font-size="12.8" stroke-width="0.28" text-anchor="end" fill="#1212cc" stroke="#1212cc">42</text><text x="269.9" y="412.8" font-family="Liberation Serif" font-size="8.3">10.2</text><text x="302.2" y="413" font-family="Liberation Serif" font-size="9">m</text><text x="269.9" y="421.2" font-family="Liberation Serif" font-size="9.35" textLength="41.8" lengthAdjust="spacingAndGlyphs">Molybdenu</text></g><g fill="#1212cc" stroke="#1212cc" stroke-width="0.2"><text x="314.5" y="399.1" font-family="Liberation Sans" font-size="14.6" font-weight="bold" text-anchor="end">Mo</text><text x="269.9" y="399.8" font-family="'Liberation Serif','Noto Serif CJK SC',serif" font-size="15" font-weight="bold" stroke-width="0.3">钼</text></g><g fill="#1212cc" stroke="#1212cc" stroke-width="0.28"><text x="321.4" y="381" font-family="Liberation Serif" font-size="8.3" font-weight="bold">(97.907)</text><text x="367.7" y="380.9" font-family="Liberation Sans" font-size="12.8" stroke-width="0.28" text-anchor="end" fill="#1212cc" stroke="#1212cc">43</text><text x="321.4" y="412.8" font-family="Liberation Serif" font-size="8.3" font-weight="bold">11.5</text><text x="321.4" y="421.2" font-family="Liberation Serif" font-size="9.35" font-weight="bold">Technetium</text></g><g fill="#1212cc" stroke="#1212cc" stroke-width="0.2"><text x="369.4" y="399.1" font-family="Liberation Sans" font-size="14.6" font-weight="bold" text-anchor="end">Tc</text><text x="321.4" y="399.8" font-family="'Liberation Serif','Noto Serif CJK SC',serif" font-size="15" font-weight="bold" stroke-width="0.3">锝</text></g><g fill="#1212cc" stroke="#1212cc" stroke-width="0.28"><text x="373" y="381" font-family="Liberation Serif" font-size="8.3">101.07</text><text x="419.3" y="380.9" font-family="Liberation Sans" font-size="12.8" stroke-width="0.28" text-anchor="end" fill="#1212cc" stroke="#1212cc">44</text><text x="373" y="412.8" font-family="Liberation Serif" font-size="8.3">12.2</text><text x="373" y="421.2" font-family="Liberation Serif" font-size="9.35">Ruthenium</text></g><g fill="#1212cc" stroke="#1212cc" stroke-width="0.2"><text x="421.6" y="399.1" font-family="Liberation Sans" font-size="14.6" font-weight="bold" text-anchor="end">Ru</text><text x="373" y="399.8" font-family="'Liberation Serif','Noto Serif CJK SC',serif" font-size="15" font-weight="bold" stroke-width="0.3">钌</text></g><g fill="#1212cc" stroke="#1212cc" stroke-width="0.28"><text x="424.5" y="381" font-family="Liberation Serif" font-size="8.3">102.906</text><text x="470.8" y="380.9" font-family="Liberation Sans" font-size="12.8" stroke-width="0.28" text-anchor="end" fill="#1212cc" stroke="#1212cc">45</text><text x="424.5" y="412.8" font-family="Liberation Serif" font-size="8.3">12.4</text><text x="424.5" y="421.2" font-family="Liberation Serif" font-size="9.35">Rhodium</text></g><g fill="#1212cc" stroke="#1212cc" stroke-width="0.2"><text x="472.3" y="399.1" font-family="Liberation Sans" font-size="14.6" font-weight="bold" text-anchor="end">Rh</text><text x="424.5" y="399.8" font-family="'Liberation Serif','Noto Serif CJK SC',serif" font-size="15" font-weight="bold" stroke-width="0.3">铑</text></g><g fill="#1212cc" stroke="#1212cc" stroke-width="0.28"><text x="476.1" y="381" font-family="Liberation Serif" font-size="8.3">106.42</text><text x="522.4" y="380.9" font-family="Liberation Sans" font-size="12.8" stroke-width="0.28" text-anchor="end" fill="#1212cc" stroke="#1212cc">46</text><text x="476.1" y="412.8" font-family="Liberation Serif" font-size="8.3">12.0</text><text x="476.1" y="421.2" font-family="Liberation Serif" font-size="9.35">Palladium</text></g><g fill="#1212cc" stroke="#1212cc" stroke-width="0.2"><text x="522.9" y="399.1" font-family="Liberation Sans" font-size="14.6" font-weight="bold" text-anchor="end">Pd</text><text x="476.1" y="399.8" font-family="'Liberation Serif','Noto Serif CJK SC',serif" font-size="15" font-weight="bold" stroke-width="0.3">钯</text></g><g fill="#1212cc" stroke="#1212cc" stroke-width="0.28"><text x="527.6" y="381" font-family="Liberation Serif" font-size="8.3">107.868</text><text x="573.9" y="380.9" font-family="Liberation Sans" font-size="12.8" stroke-width="0.28" text-anchor="end" fill="#1212cc" stroke="#1212cc">47</text><text x="527.6" y="412.8" font-family="Liberation Serif" font-size="8.3">10.5</text><text x="527.6" y="421.2" font-family="Liberation Serif" font-size="9.35">Silver</text></g><g fill="#1212cc" stroke="#1212cc" stroke-width="0.2"><text x="576" y="399.1" font-family="Liberation Sans" font-size="14.6" font-weight="bold" text-anchor="end">Ag</text><text x="527.6" y="399.8" font-family="'Liberation Serif','Noto Serif CJK SC',serif" font-size="15" font-weight="bold" stroke-width="0.3">银</text></g><g fill="#1212cc" stroke="#1212cc" stroke-width="0.28"><text x="579.1" y="381" font-family="Liberation Serif" font-size="8.3">112.411</text><text x="625.4" y="380.9" font-family="Liberation Sans" font-size="12.8" stroke-width="0.28" text-anchor="end" fill="#1212cc" stroke="#1212cc">48</text><text x="579.1" y="412.8" font-family="Liberation Serif" font-size="8.3">8.648</text><text x="579.1" y="421.2" font-family="Liberation Serif" font-size="9.35">Cadmium</text></g><g fill="#1212cc" stroke="#1212cc" stroke-width="0.2"><text x="628" y="399.1" font-family="Liberation Sans" font-size="14.6" font-weight="bold" text-anchor="end">Cd</text><text x="579.1" y="399.8" font-family="'Liberation Serif','Noto Serif CJK SC',serif" font-size="15" font-weight="bold" stroke-width="0.3">镉</text></g><g fill="#1212cc" stroke="#1212cc" stroke-width="0.28"><text x="630.7" y="381" font-family="Liberation Serif" font-size="8.3">114.82</text><text x="677" y="380.9" font-family="Liberation Sans" font-size="12.8" stroke-width="0.28" text-anchor="end" fill="#1212cc" stroke="#1212cc">49</text><text x="630.7" y="412.8" font-family="Liberation Serif" font-size="8.3">7.31</text><text x="630.7" y="421.2" font-family="Liberation Serif" font-size="9.35">Indium</text></g><g fill="#1212cc" stroke="#1212cc" stroke-width="0.2"><text x="675.9" y="399.1" font-family="Liberation Sans" font-size="14.6" font-weight="bold" text-anchor="end">In</text><text x="630.7" y="399.8" font-family="'Liberation Serif','Noto Serif CJK SC',serif" font-size="15" font-weight="bold" stroke-width="0.3">铟</text></g><g fill="#4a14b8" stroke="#4a14b8" stroke-width="0.28"><text x="682.2" y="381" font-family="Liberation Serif" font-size="8.3">118.71</text><text x="728.5" y="380.9" font-family="Liberation Sans" font-size="12.8" stroke-width="0.28" text-anchor="end" fill="#3a12c0" stroke="#3a12c0">50</text><text x="682.2" y="412.8" font-family="Liberation Serif" font-size="8.3">7.30</text><text x="682.2" y="421.2" font-family="Liberation Serif" font-size="9.35">Tin</text></g><g fill="#2c10c4" stroke="#2c10c4" stroke-width="0.2"><text x="729.9" y="399.1" font-family="Liberation Sans" font-size="14.6" font-weight="bold" text-anchor="end">Sn</text><text x="682.2" y="399.8" font-family="'Liberation Serif','Noto Serif CJK SC',serif" font-size="15" font-weight="bold" stroke-width="0.3">锡</text></g><g fill="#1212cc" stroke="#1212cc" stroke-width="0.28"><text x="733.8" y="381" font-family="Liberation Serif" font-size="8.3">121.75</text><text x="780.1" y="380.9" font-family="Liberation Sans" font-size="12.8" stroke-width="0.28" text-anchor="end" fill="#1212cc" stroke="#1212cc">51</text><text x="733.8" y="412.8" font-family="Liberation Serif" font-size="8.3">6.618</text><text x="733.8" y="421.2" font-family="Liberation Serif" font-size="9.35">Antimony</text></g><g fill="#1212cc" stroke="#1212cc" stroke-width="0.2"><text x="780.1" y="399.1" font-family="Liberation Sans" font-size="14.6" font-weight="bold" text-anchor="end">Sb</text><text x="733.8" y="399.8" font-family="'Liberation Serif','Noto Serif CJK SC',serif" font-size="15" font-weight="bold" stroke-width="0.3">锑</text></g><g fill="#1212cc" stroke="#1212cc" stroke-width="0.28"><text x="785.3" y="381" font-family="Liberation Serif" font-size="8.3">127.60</text><text x="831.6" y="380.9" font-family="Liberation Sans" font-size="12.8" stroke-width="0.28" text-anchor="end" fill="#1212cc" stroke="#1212cc">52</text><text x="785.3" y="412.8" font-family="Liberation Serif" font-size="8.3">6.24</text><text x="785.3" y="421.2" font-family="Liberation Serif" font-size="9.35">Tellurium</text></g><g fill="#1212cc" stroke="#1212cc" stroke-width="0.2"><text x="835" y="399.1" font-family="Liberation Sans" font-size="14.6" font-weight="bold" text-anchor="end">Te</text><text x="785.3" y="399.8" font-family="'Liberation Serif','Noto Serif CJK SC',serif" font-size="15" font-weight="bold" stroke-width="0.3">碲</text></g><g fill="#1212cc" stroke="#1212cc" stroke-width="0.28"><text x="836.8" y="381" font-family="Liberation Serif" font-size="8.3">126.904</text><text x="883.1" y="380.9" font-family="Liberation Sans" font-size="12.8" stroke-width="0.28" text-anchor="end" fill="#1212cc" stroke="#1212cc">53</text><text x="836.8" y="412.8" font-family="Liberation Serif" font-size="8.3">4.92</text><text x="836.8" y="421.2" font-family="Liberation Serif" font-size="9.35">Iodine</text></g><g fill="#1212cc" stroke="#1212cc" stroke-width="0.2"><text x="882.5" y="399.1" font-family="Liberation Sans" font-size="14.6" font-weight="bold" text-anchor="end">I</text><text x="836.8" y="399.8" font-family="'Liberation Serif','Noto Serif CJK SC',serif" font-size="15" font-weight="bold" stroke-width="0.3">碘</text></g><g fill="#4a14b8" stroke="#4a14b8" stroke-width="0.28"><text x="888.4" y="381" font-family="Liberation Serif" font-size="8.3">131.29</text><text x="934.7" y="380.9" font-family="Liberation Sans" font-size="12.8" stroke-width="0.28" text-anchor="end" fill="#3a12c0" stroke="#3a12c0">54</text><text x="888.4" y="412.8" font-family="Liberation Serif" font-size="8.3">5.89</text><text x="888.4" y="421.2" font-family="Liberation Serif" font-size="9.35">Xenon</text></g><g fill="#30ea50" stroke="#30ea50" stroke-width="0.2"><text x="934.5" y="399.1" font-family="Liberation Sans" font-size="14.6" font-weight="bold" text-anchor="end">Xe</text><text x="888.4" y="399.8" font-family="'Liberation Serif','Noto Serif CJK SC',serif" font-size="15" font-weight="bold" stroke-width="0.3">氙</text></g><g fill="#1212cc" stroke="#1212cc" stroke-width="0.28"><text x="12.2" y="438" font-family="Liberation Serif" font-size="8.3">132.905</text><text x="58.5" y="437.9" font-family="Liberation Sans" font-size="12.8" stroke-width="0.28" text-anchor="end" fill="#1212cc" stroke="#1212cc">55</text><text x="12.2" y="469.8" font-family="Liberation Serif" font-size="8.3">1.87</text><text x="12.2" y="478.2" font-family="Liberation Serif" font-size="9.35">Cesium</text></g><g fill="#1212cc" stroke="#1212cc" stroke-width="0.2"><text x="58.7" y="456.1" font-family="Liberation Sans" font-size="14.6" font-weight="bold" text-anchor="end">Cs</text><text x="12.2" y="456.8" font-family="'Liberation Serif','Noto Serif CJK SC',serif" font-size="15" font-weight="bold" stroke-width="0.3">铯</text></g><g fill="#1212cc" stroke="#1212cc" stroke-width="0.28"><text x="63.7" y="438" font-family="Liberation Serif" font-size="8.3">137.327</text><text x="110" y="437.9" font-family="Liberation Sans" font-size="12.8" stroke-width="0.28" text-anchor="end" fill="#1212cc" stroke="#1212cc">56</text><text x="63.7" y="469.8" font-family="Liberation Serif" font-size="8.3">3.78</text><text x="63.7" y="478.2" font-family="Liberation Serif" font-size="9.35">Barium</text></g><g fill="#1212cc" stroke="#1212cc" stroke-width="0.2"><text x="110" y="456.1" font-family="Liberation Sans" font-size="14.6" font-weight="bold" text-anchor="end">Ba</text><text x="63.7" y="456.8" font-family="'Liberation Serif','Noto Serif CJK SC',serif" font-size="15" font-weight="bold" stroke-width="0.3">钡</text></g><g fill="#1212cc" stroke="#1212cc" stroke-width="0.28"><text x="115.3" y="438" font-family="Liberation Serif" font-size="8.3">138.906</text><text x="161.6" y="437.9" font-family="Liberation Sans" font-size="12.8" stroke-width="0.28" text-anchor="end" fill="#1212cc" stroke="#1212cc">57</text><text x="115.3" y="469.8" font-family="Liberation Serif" font-size="8.3">6.7</text><text x="115.3" y="478.2" font-family="Liberation Serif" font-size="9.35">Lanthanum</text></g><g fill="#1212cc" stroke="#1212cc" stroke-width="0.2"><text x="164.3" y="456.1" font-family="Liberation Sans" font-size="14.6" font-weight="bold" text-anchor="end">La</text><text x="115.3" y="456.8" font-family="'Liberation Serif','Noto Serif CJK SC',serif" font-size="15" font-weight="bold" stroke-width="0.3">镧</text></g><g fill="#1212cc" stroke="#1212cc" stroke-width="0.28"><text x="166.8" y="438" font-family="Liberation Serif" font-size="8.3">178.49</text><text x="213.1" y="437.9" font-family="Liberation Sans" font-size="12.8" stroke-width="0.28" text-anchor="end" fill="#1212cc" stroke="#1212cc">72</text><text x="166.8" y="469.8" font-family="Liberation Serif" font-size="8.3">13.1</text><text x="166.8" y="478.2" font-family="Liberation Serif" font-size="9.35">Hafnium</text></g><g fill="#1212cc" stroke="#1212cc" stroke-width="0.2"><text x="213.9" y="456.1" font-family="Liberation Sans" font-size="14.6" font-weight="bold" text-anchor="end">Hf</text><text x="166.8" y="456.8" font-family="'Liberation Serif','Noto Serif CJK SC',serif" font-size="15" font-weight="bold" stroke-width="0.3">铪</text></g><g fill="#1212cc" stroke="#1212cc" stroke-width="0.28"><text x="218.4" y="438" font-family="Liberation Serif" font-size="8.3">180.948</text><text x="264.7" y="437.9" font-family="Liberation Sans" font-size="12.8" stroke-width="0.28" text-anchor="end" fill="#1212cc" stroke="#1212cc">73</text><text x="218.4" y="469.8" font-family="Liberation Serif" font-size="8.3">16.6</text><text x="218.4" y="478.2" font-family="Liberation Serif" font-size="9.35">Tantalum</text></g><g fill="#1212cc" stroke="#1212cc" stroke-width="0.2"><text x="266.8" y="456.1" font-family="Liberation Sans" font-size="14.6" font-weight="bold" text-anchor="end">Ta</text><text x="218.4" y="456.8" font-family="'Liberation Serif','Noto Serif CJK SC',serif" font-size="15" font-weight="bold" stroke-width="0.3">钽</text></g><g fill="#1212cc" stroke="#1212cc" stroke-width="0.28"><text x="269.9" y="438" font-family="Liberation Serif" font-size="8.3">183.85</text><text x="316.2" y="437.9" font-family="Liberation Sans" font-size="12.8" stroke-width="0.28" text-anchor="end" fill="#1212cc" stroke="#1212cc">74</text><text x="269.9" y="469.8" font-family="Liberation Serif" font-size="8.3">19.3</text><text x="269.9" y="478.2" font-family="Liberation Serif" font-size="9.35">Tungsten</text></g><g fill="#1212cc" stroke="#1212cc" stroke-width="0.2"><text x="315.7" y="456.1" font-family="Liberation Sans" font-size="14.6" font-weight="bold" text-anchor="end">W</text><text x="269.9" y="456.8" font-family="'Liberation Serif','Noto Serif CJK SC',serif" font-size="15" font-weight="bold" stroke-width="0.3">钨</text></g><g fill="#1212cc" stroke="#1212cc" stroke-width="0.28"><text x="321.4" y="438" font-family="Liberation Serif" font-size="8.3">186.207</text><text x="367.7" y="437.9" font-family="Liberation Sans" font-size="12.8" stroke-width="0.28" text-anchor="end" fill="#1212cc" stroke="#1212cc">75</text><text x="321.4" y="469.8" font-family="Liberation Serif" font-size="8.3">21.0</text><text x="321.4" y="478.2" font-family="Liberation Serif" font-size="9.35">Rhenium</text></g><g fill="#1212cc" stroke="#1212cc" stroke-width="0.2"><text x="367.4" y="456.1" font-family="Liberation Sans" font-size="14.6" font-weight="bold" text-anchor="end">Re</text><text x="321.4" y="456.8" font-family="'Liberation Serif','Noto Serif CJK SC',serif" font-size="15" font-weight="bold" stroke-width="0.3">铼</text></g><g fill="#1212cc" stroke="#1212cc" stroke-width="0.28"><text x="373" y="438" font-family="Liberation Serif" font-size="8.3">190.2</text><text x="419.3" y="437.9" font-family="Liberation Sans" font-size="12.8" stroke-width="0.28" text-anchor="end" fill="#1212cc" stroke="#1212cc">76</text><text x="373" y="469.8" font-family="Liberation Serif" font-size="8.3">22.59</text><text x="373" y="478.2" font-family="Liberation Serif" font-size="9.35">Osmium</text></g><g fill="#1212cc" stroke="#1212cc" stroke-width="0.2"><text x="420.5" y="456.1" font-family="Liberation Sans" font-size="14.6" font-weight="bold" text-anchor="end">Os</text><text x="373" y="456.8" font-family="'Liberation Serif','Noto Serif CJK SC',serif" font-size="15" font-weight="bold" stroke-width="0.3">锇</text></g><g fill="#1212cc" stroke="#1212cc" stroke-width="0.28"><text x="424.5" y="438" font-family="Liberation Serif" font-size="8.3">192.22</text><text x="470.8" y="437.9" font-family="Liberation Sans" font-size="12.8" stroke-width="0.28" text-anchor="end" fill="#1212cc" stroke="#1212cc">77</text><text x="424.5" y="469.8" font-family="Liberation Serif" font-size="8.3">22.42</text><text x="424.5" y="478.2" font-family="Liberation Serif" font-size="9.35">Iridium</text></g><g fill="#1212cc" stroke="#1212cc" stroke-width="0.2"><text x="469.6" y="456.1" font-family="Liberation Sans" font-size="14.6" font-weight="bold" text-anchor="end">Ir</text><text x="424.5" y="456.8" font-family="'Liberation Serif','Noto Serif CJK SC',serif" font-size="15" font-weight="bold" stroke-width="0.3">铱</text></g><g fill="#1212cc" stroke="#1212cc" stroke-width="0.28"><text x="476.1" y="438" font-family="Liberation Serif" font-size="8.3">195.08</text><text x="522.4" y="437.9" font-family="Liberation Sans" font-size="12.8" stroke-width="0.28" text-anchor="end" fill="#1212cc" stroke="#1212cc">78</text><text x="476.1" y="469.8" font-family="Liberation Serif" font-size="8.3">21.4</text><text x="476.1" y="478.2" font-family="Liberation Serif" font-size="9.35">Platinum</text></g><g fill="#1212cc" stroke="#1212cc" stroke-width="0.2"><text x="522.6" y="456.1" font-family="Liberation Sans" font-size="14.6" font-weight="bold" text-anchor="end">Pt</text><text x="476.1" y="456.8" font-family="'Liberation Serif','Noto Serif CJK SC',serif" font-size="15" font-weight="bold" stroke-width="0.3">铂</text></g><g fill="#1212cc" stroke="#1212cc" stroke-width="0.28"><text x="527.6" y="438" font-family="Liberation Serif" font-size="8.3">196.967</text><text x="573.9" y="437.9" font-family="Liberation Sans" font-size="12.8" stroke-width="0.28" text-anchor="end" fill="#1212cc" stroke="#1212cc">79</text><text x="527.6" y="469.8" font-family="Liberation Serif" font-size="8.3">19.3</text><text x="527.6" y="478.2" font-family="Liberation Serif" font-size="9.35">Gold</text></g><g fill="#1212cc" stroke="#1212cc" stroke-width="0.2"><text x="576" y="456.1" font-family="Liberation Sans" font-size="14.6" font-weight="bold" text-anchor="end">Au</text><text x="527.6" y="456.8" font-family="'Liberation Serif','Noto Serif CJK SC',serif" font-size="15" font-weight="bold" stroke-width="0.3">金</text></g><g fill="#1212cc" stroke="#1212cc" stroke-width="0.28"><text x="579.1" y="438" font-family="Liberation Serif" font-size="8.3">200.59</text><text x="625.4" y="437.9" font-family="Liberation Sans" font-size="12.8" stroke-width="0.28" text-anchor="end" fill="#1212cc" stroke="#1212cc">80</text><text x="579.1" y="469.8" font-family="Liberation Serif" font-size="8.3">13.546</text><text x="579.1" y="478.2" font-family="Liberation Serif" font-size="9.35">Mercury</text></g><g fill="#991111" stroke="#991111" stroke-width="0.2"><text x="627.5" y="456.1" font-family="Liberation Sans" font-size="14.6" font-weight="bold" text-anchor="end">Hg</text><text x="579.1" y="456.8" font-family="'Liberation Serif','Noto Serif CJK SC',serif" font-size="15" font-weight="bold" stroke-width="0.3">汞</text></g><g fill="#1212cc" stroke="#1212cc" stroke-width="0.28"><text x="630.7" y="438" font-family="Liberation Serif" font-size="8.3">204.383</text><text x="677" y="437.9" font-family="Liberation Sans" font-size="12.8" stroke-width="0.28" text-anchor="end" fill="#1212cc" stroke="#1212cc">81</text><text x="630.7" y="469.8" font-family="Liberation Serif" font-size="8.3">11.85</text><text x="630.7" y="478.2" font-family="Liberation Serif" font-size="9.35">Thallium</text></g><g fill="#1212cc" stroke="#1212cc" stroke-width="0.2"><text x="676" y="456.1" font-family="Liberation Sans" font-size="14.6" font-weight="bold" text-anchor="end">Tl</text><text x="630.7" y="456.8" font-family="'Liberation Serif','Noto Serif CJK SC',serif" font-size="15" font-weight="bold" stroke-width="0.3">铊</text></g><g fill="#2a2a78" stroke="#2a2a78" stroke-width="0.28"><text x="682.2" y="438" font-family="Liberation Serif" font-size="8.3">207.2</text><text x="728.5" y="437.9" font-family="Liberation Sans" font-size="12.8" stroke-width="0.28" text-anchor="end" fill="#1616a4" stroke="#1616a4">82</text><text x="682.2" y="469.8" font-family="Liberation Serif" font-size="8.3">11.34</text><text x="682.2" y="478.2" font-family="Liberation Serif" font-size="9.35">Lead</text></g><g fill="#1616a4" stroke="#1616a4" stroke-width="0.2"><text x="729.6" y="456.1" font-family="Liberation Sans" font-size="14.6" font-weight="bold" text-anchor="end">Pb</text><text x="682.2" y="456.8" font-family="'Liberation Serif','Noto Serif CJK SC',serif" font-size="15" font-weight="bold" stroke-width="0.3">铅</text></g><g fill="#4a14b8" stroke="#4a14b8" stroke-width="0.28"><text x="733.8" y="438" font-family="Liberation Serif" font-size="8.3">208.980</text><text x="780.1" y="437.9" font-family="Liberation Sans" font-size="12.8" stroke-width="0.28" text-anchor="end" fill="#3a12c0" stroke="#3a12c0">83</text><text x="733.8" y="469.8" font-family="Liberation Serif" font-size="8.3">9.781</text><text x="733.8" y="478.2" font-family="Liberation Serif" font-size="9.35">Bismuth</text></g><g fill="#2c10c4" stroke="#2c10c4" stroke-width="0.2"><text x="781.8" y="456.1" font-family="Liberation Sans" font-size="14.6" font-weight="bold" text-anchor="end">Bi</text><text x="733.8" y="456.8" font-family="'Liberation Serif','Noto Serif CJK SC',serif" font-size="15" font-weight="bold" stroke-width="0.3">铋</text></g><g fill="#1212cc" stroke="#1212cc" stroke-width="0.28"><text x="785.3" y="438" font-family="Liberation Serif" font-size="8.3">(208.98)</text><text x="831.6" y="437.9" font-family="Liberation Sans" font-size="12.8" stroke-width="0.28" text-anchor="end" fill="#1212cc" stroke="#1212cc">84</text><text x="785.3" y="469.8" font-family="Liberation Serif" font-size="8.3">9.4</text><text x="785.3" y="478.2" font-family="Liberation Serif" font-size="9.35">Polonium</text></g><g fill="#1212cc" stroke="#1212cc" stroke-width="0.2"><text x="833.1" y="456.1" font-family="Liberation Sans" font-size="14.6" font-weight="bold" text-anchor="end">Po</text><text x="785.3" y="456.8" font-family="'Liberation Serif','Noto Serif CJK SC',serif" font-size="15" font-weight="bold" stroke-width="0.3">钋</text></g><g fill="#1212cc" stroke="#1212cc" stroke-width="0.28"><text x="836.8" y="438" font-family="Liberation Serif" font-size="8.3">(209.99)</text><text x="883.1" y="437.9" font-family="Liberation Sans" font-size="12.8" stroke-width="0.28" text-anchor="end" fill="#1212cc" stroke="#1212cc">85</text><text x="836.8" y="469.8" font-family="Liberation Serif" font-size="8.3">--</text><text x="836.8" y="478.2" font-family="Liberation Serif" font-size="9.35">Astatine</text></g><g fill="#1212cc" stroke="#1212cc" stroke-width="0.2"><text x="884.7" y="456.1" font-family="Liberation Sans" font-size="14.6" font-weight="bold" text-anchor="end">At</text><text x="836.8" y="456.8" font-family="'Liberation Serif','Noto Serif CJK SC',serif" font-size="15" font-weight="bold" stroke-width="0.3">砹</text></g><g fill="#1212cc" stroke="#1212cc" stroke-width="0.28"><text x="888.4" y="438" font-family="Liberation Serif" font-size="8.3">(222.02)</text><text x="934.7" y="437.9" font-family="Liberation Sans" font-size="12.8" stroke-width="0.28" text-anchor="end" fill="#1212cc" stroke="#1212cc">86</text><text x="888.4" y="469.8" font-family="Liberation Serif" font-size="8.3">9.91</text><text x="888.4" y="478.2" font-family="Liberation Serif" font-size="9.35">Radon</text></g><g fill="#30ea50" stroke="#30ea50" stroke-width="0.2"><text x="935.9" y="456.1" font-family="Liberation Sans" font-size="14.6" font-weight="bold" text-anchor="end">Rn</text><text x="888.4" y="456.8" font-family="'Liberation Serif','Noto Serif CJK SC',serif" font-size="15" font-weight="bold" stroke-width="0.3">氡</text></g><g fill="#1212cc" stroke="#1212cc" stroke-width="0.28"><text x="12.2" y="494.4" font-family="Liberation Serif" font-size="8.3">(223.02)</text><text x="58.5" y="494.3" font-family="Liberation Sans" font-size="12.8" stroke-width="0.28" text-anchor="end" fill="#1212cc" stroke="#1212cc">87</text><text x="12.2" y="526.2" font-family="Liberation Serif" font-size="8.3">--</text><text x="12.2" y="534.6" font-family="Liberation Serif" font-size="9.35">Francium</text></g><g fill="#1212cc" stroke="#1212cc" stroke-width="0.2"><text x="59.1" y="512.5" font-family="Liberation Sans" font-size="14.6" font-weight="bold" text-anchor="end">Fr</text><text x="12.2" y="513.2" font-family="'Liberation Serif','Noto Serif CJK SC',serif" font-size="15" font-weight="bold" stroke-width="0.3">钫</text></g><g fill="#1212cc" stroke="#1212cc" stroke-width="0.28"><text x="63.7" y="494.4" font-family="Liberation Serif" font-size="8.3">(226.03)</text><text x="110" y="494.3" font-family="Liberation Sans" font-size="12.8" stroke-width="0.28" text-anchor="end" fill="#1212cc" stroke="#1212cc">88</text><text x="63.7" y="526.2" font-family="Liberation Serif" font-size="8.3">5.0</text><text x="63.7" y="534.6" font-family="Liberation Serif" font-size="9.35">Radium</text></g><g fill="#1212cc" stroke="#1212cc" stroke-width="0.2"><text x="110.5" y="512.5" font-family="Liberation Sans" font-size="14.6" font-weight="bold" text-anchor="end">Ra</text><text x="63.7" y="513.2" font-family="'Liberation Serif','Noto Serif CJK SC',serif" font-size="15" font-weight="bold" stroke-width="0.3">镭</text></g><g fill="#1212cc" stroke="#1212cc" stroke-width="0.28"><text x="115.3" y="494.4" font-family="Liberation Serif" font-size="8.3">(227.03)</text><text x="161.6" y="494.3" font-family="Liberation Sans" font-size="12.8" stroke-width="0.28" text-anchor="end" fill="#1212cc" stroke="#1212cc">89</text><text x="115.3" y="526.2" font-family="Liberation Serif" font-size="8.3">10.07</text><text x="115.3" y="534.6" font-family="Liberation Serif" font-size="9.35">Actinium</text></g><g fill="#1212cc" stroke="#1212cc" stroke-width="0.2"><text x="161.8" y="512.5" font-family="Liberation Sans" font-size="14.6" font-weight="bold" text-anchor="end">Ac</text><text x="115.3" y="513.2" font-family="'Liberation Serif','Noto Serif CJK SC',serif" font-size="15" font-weight="bold" stroke-width="0.3">锕</text></g><g fill="#1212cc" stroke="#1212cc" stroke-width="0.28"><text x="166.8" y="494.4" font-family="Liberation Serif" font-size="8.3">(261.)</text><text x="213.1" y="494.3" font-family="Liberation Sans" font-size="12.8" stroke-width="0.28" text-anchor="end" fill="#1212cc" stroke="#1212cc">104</text><text x="166.8" y="524.6" font-family="Liberation Serif" font-size="8.3">--</text><text x="204.3" y="524.8" font-family="Liberation Serif" font-size="9">m</text><text x="166.8" y="534" font-family="Liberation Serif" font-size="9.35" textLength="47.3" lengthAdjust="spacingAndGlyphs">Rutherfordiu</text></g><g fill="#1212cc" stroke="#1212cc" stroke-width="0.2"><text x="209.4" y="511.4" font-family="Liberation Sans" font-size="14.6" font-weight="bold" text-anchor="end">Rf</text></g><g fill="#1212cc" stroke="#1212cc" stroke-width="0.28"><text x="218.4" y="494.4" font-family="Liberation Serif" font-size="8.3">(262.)</text><text x="264.7" y="494.3" font-family="Liberation Sans" font-size="12.8" stroke-width="0.28" text-anchor="end" fill="#1212cc" stroke="#1212cc">105</text><text x="218.4" y="524.6" font-family="Liberation Serif" font-size="8.3">--</text><text x="218.4" y="534" font-family="Liberation Serif" font-size="9.35">Dubnium</text></g><g fill="#1212cc" stroke="#1212cc" stroke-width="0.2"><text x="264.5" y="511.4" font-family="Liberation Sans" font-size="14.6" font-weight="bold" text-anchor="end">Db</text></g><g fill="#1212cc" stroke="#1212cc" stroke-width="0.28"><text x="269.9" y="494.4" font-family="Liberation Serif" font-size="8.3">(263.)</text><text x="316.2" y="494.3" font-family="Liberation Sans" font-size="12.8" stroke-width="0.28" text-anchor="end" fill="#1212cc" stroke="#1212cc">106</text><text x="269.9" y="524.6" font-family="Liberation Serif" font-size="8.3">--</text><text x="269.9" y="534" font-family="Liberation Serif" font-size="9.35">Seaborgium</text></g><g fill="#1212cc" stroke="#1212cc" stroke-width="0.2"><text x="315.4" y="511.4" font-family="Liberation Sans" font-size="14.6" font-weight="bold" text-anchor="end">Sg</text></g><g fill="#1212cc" stroke="#1212cc" stroke-width="0.28"><text x="321.4" y="494.4" font-family="Liberation Serif" font-size="8.3">(262.)</text><text x="367.7" y="494.3" font-family="Liberation Sans" font-size="12.8" stroke-width="0.28" text-anchor="end" fill="#1212cc" stroke="#1212cc">107</text><text x="321.4" y="524.6" font-family="Liberation Serif" font-size="8.3">--</text><text x="321.4" y="534" font-family="Liberation Serif" font-size="9.35">Bohrium</text></g><g fill="#1212cc" stroke="#1212cc" stroke-width="0.2"><text x="364.8" y="511.4" font-family="Liberation Sans" font-size="14.6" font-weight="bold" text-anchor="end">Bh</text></g><g fill="#1212cc" stroke="#1212cc" stroke-width="0.28"><text x="373" y="494.4" font-family="Liberation Serif" font-size="8.3">(265.)</text><text x="419.3" y="494.3" font-family="Liberation Sans" font-size="12.8" stroke-width="0.28" text-anchor="end" fill="#1212cc" stroke="#1212cc">108</text><text x="373" y="524.6" font-family="Liberation Serif" font-size="8.3">--</text><text x="373" y="534" font-family="Liberation Serif" font-size="9.35">Hassium</text></g><g fill="#1212cc" stroke="#1212cc" stroke-width="0.2"><text x="418" y="511.4" font-family="Liberation Sans" font-size="14.6" font-weight="bold" text-anchor="end">Hs</text></g><g fill="#1212cc" stroke="#1212cc" stroke-width="0.28"><text x="424.5" y="494.4" font-family="Liberation Serif" font-size="8.3">(266.)</text><text x="470.8" y="494.3" font-family="Liberation Sans" font-size="12.8" stroke-width="0.28" text-anchor="end" fill="#1212cc" stroke="#1212cc">109</text><text x="424.5" y="524.6" font-family="Liberation Serif" font-size="8.3">--</text><text x="424.5" y="534" font-family="Liberation Serif" font-size="9.35" textLength="46.2" lengthAdjust="spacingAndGlyphs">Meitnerium</text></g><g fill="#1212cc" stroke="#1212cc" stroke-width="0.2"><text x="465.9" y="511.4" font-family="Liberation Sans" font-size="14.6" font-weight="bold" text-anchor="end">Mt</text></g><g fill="#1212cc" stroke="#1212cc" stroke-width="0.28"><text x="476.1" y="494.4" font-family="Liberation Serif" font-size="8.3">(281.)</text><text x="522.4" y="494.3" font-family="Liberation Sans" font-size="12.8" stroke-width="0.28" text-anchor="end" fill="#1212cc" stroke="#1212cc">110</text><text x="476.1" y="524.6" font-family="Liberation Serif" font-size="8.3">--</text><text x="513.6" y="524.8" font-family="Liberation Serif" font-size="9">m</text><text x="476.1" y="534" font-family="Liberation Serif" font-size="9.35" textLength="48.5" lengthAdjust="spacingAndGlyphs">Darmstadtiu</text></g><g fill="#1212cc" stroke="#1212cc" stroke-width="0.2"><text x="521.3" y="511.4" font-family="Liberation Sans" font-size="14.6" font-weight="bold" text-anchor="end">Ds</text></g><g fill="#1212cc" stroke="#1212cc" stroke-width="0.28"><text x="527.6" y="494.4" font-family="Liberation Serif" font-size="8.3">(281.)</text><text x="573.9" y="494.3" font-family="Liberation Sans" font-size="12.8" stroke-width="0.28" text-anchor="end" fill="#1212cc" stroke="#1212cc">111</text><text x="527.6" y="524.6" font-family="Liberation Serif" font-size="8.3">--</text><text x="565.1" y="524.8" font-family="Liberation Serif" font-size="9">m</text><text x="527.6" y="534" font-family="Liberation Serif" font-size="9.35" textLength="45.2" lengthAdjust="spacingAndGlyphs">Roentgeniu</text></g><g fill="#1212cc" stroke="#1212cc" stroke-width="0.2"><text x="574.2" y="511.4" font-family="Liberation Sans" font-size="14.6" font-weight="bold" text-anchor="end">Rg</text></g><g fill="#1212cc" stroke="#1212cc" stroke-width="0.28"><text x="579.1" y="494.4" font-family="Liberation Serif" font-size="8.3">(285.)</text><text x="625.4" y="494.3" font-family="Liberation Sans" font-size="12.8" stroke-width="0.28" text-anchor="end" fill="#1212cc" stroke="#1212cc">112</text><text x="579.1" y="524.6" font-family="Liberation Serif" font-size="8.3">--</text><text x="616.6" y="524.8" font-family="Liberation Serif" font-size="9">m</text><text x="579.1" y="534" font-family="Liberation Serif" font-size="9.35" textLength="44.2" lengthAdjust="spacingAndGlyphs">Coperniciu</text></g><g fill="#1212cc" stroke="#1212cc" stroke-width="0.2"><text x="625.4" y="511.4" font-family="Liberation Sans" font-size="14.6" font-weight="bold" text-anchor="end">Cn</text></g><g fill="#1212cc" stroke="#1212cc" stroke-width="0.28"><text x="630.7" y="494.4" font-family="Liberation Serif" font-size="8.3">(286.)</text><text x="677" y="494.3" font-family="Liberation Sans" font-size="12.8" stroke-width="0.28" text-anchor="end" fill="#1212cc" stroke="#1212cc">113</text><text x="630.7" y="524.6" font-family="Liberation Serif" font-size="8.3">--</text><text x="630.7" y="534" font-family="Liberation Serif" font-size="9.35">Ununtrium</text></g><g fill="#1212cc" stroke="#1212cc" stroke-width="0.2"><text x="678.4" y="511.4" font-family="Liberation Sans" font-size="14.6" font-weight="bold" text-anchor="end">Uut</text></g><g fill="#1212cc" stroke="#1212cc" stroke-width="0.28"><text x="682.2" y="494.4" font-family="Liberation Serif" font-size="8.3">(289.)</text><text x="728.5" y="494.3" font-family="Liberation Sans" font-size="12.8" stroke-width="0.28" text-anchor="end" fill="#1212cc" stroke="#1212cc">114</text><text x="682.2" y="524.6" font-family="Liberation Serif" font-size="8.3">--</text><text x="719.7" y="524.8" font-family="Liberation Serif" font-size="9">m</text><text x="682.2" y="534" font-family="Liberation Serif" font-size="9.35" textLength="48.5" lengthAdjust="spacingAndGlyphs">Ununquadiu</text></g><g fill="#1212cc" stroke="#1212cc" stroke-width="0.2"><text x="728.5" y="511.4" font-family="Liberation Sans" font-size="14.6" font-weight="bold" text-anchor="end">Uuq</text></g><g fill="#1212cc" stroke="#1212cc" stroke-width="0.28"><text x="733.8" y="494.4" font-family="Liberation Serif" font-size="8.3">(289.)</text><text x="780.1" y="494.3" font-family="Liberation Sans" font-size="12.8" stroke-width="0.28" text-anchor="end" fill="#1212cc" stroke="#1212cc">115</text><text x="733.8" y="524.6" font-family="Liberation Serif" font-size="8.3">--</text><text x="771.3" y="524.8" font-family="Liberation Serif" font-size="9">m</text><text x="733.8" y="534" font-family="Liberation Serif" font-size="9.35" textLength="46.8" lengthAdjust="spacingAndGlyphs">Ununpentiu</text></g><g fill="#1212cc" stroke="#1212cc" stroke-width="0.2"><text x="779.6" y="511.4" font-family="Liberation Sans" font-size="14.6" font-weight="bold" text-anchor="end">Uup</text></g><g fill="#1212cc" stroke="#1212cc" stroke-width="0.28"><text x="785.3" y="494.4" font-family="Liberation Serif" font-size="8.3">(293.)</text><text x="831.6" y="494.3" font-family="Liberation Sans" font-size="12.8" stroke-width="0.28" text-anchor="end" fill="#1212cc" stroke="#1212cc">116</text><text x="785.3" y="524.6" font-family="Liberation Serif" font-size="8.3">--</text><text x="822.8" y="524.8" font-family="Liberation Serif" font-size="9">m</text><text x="785.3" y="534" font-family="Liberation Serif" font-size="9.35" textLength="42.8" lengthAdjust="spacingAndGlyphs">Ununhexiu</text></g><g fill="#1212cc" stroke="#1212cc" stroke-width="0.2"><text x="834.9" y="511.4" font-family="Liberation Sans" font-size="14.6" font-weight="bold" text-anchor="end">Uuh</text></g><g fill="#1212cc" stroke="#1212cc" stroke-width="0.28"><text x="836.8" y="494.4" font-family="Liberation Serif" font-size="8.3">(294.)</text><text x="883.1" y="494.3" font-family="Liberation Sans" font-size="12.8" stroke-width="0.28" text-anchor="end" fill="#1212cc" stroke="#1212cc">117</text><text x="836.8" y="524.6" font-family="Liberation Serif" font-size="8.3">--</text><text x="874.3" y="524.8" font-family="Liberation Serif" font-size="9">m</text><text x="836.8" y="534" font-family="Liberation Serif" font-size="9.35">Unnilseptiu</text></g><g fill="#1212cc" stroke="#1212cc" stroke-width="0.2"><text x="885.1" y="511.4" font-family="Liberation Sans" font-size="14.6" font-weight="bold" text-anchor="end">Uus</text></g><g fill="#1212cc" stroke="#1212cc" stroke-width="0.28"><text x="888.4" y="494.4" font-family="Liberation Serif" font-size="8.3">(294.)</text><text x="934.7" y="494.3" font-family="Liberation Sans" font-size="12.8" stroke-width="0.28" text-anchor="end" fill="#1212cc" stroke="#1212cc">118</text><text x="888.4" y="524.6" font-family="Liberation Serif" font-size="8.3">--</text><text x="925.9" y="524.8" font-family="Liberation Serif" font-size="9">m</text><text x="888.4" y="534" font-family="Liberation Serif" font-size="9.35">Ununoctiu</text></g><g fill="#1212cc" stroke="#1212cc" stroke-width="0.2"><text x="936.3" y="511.4" font-family="Liberation Sans" font-size="14.6" font-weight="bold" text-anchor="end">Uuo</text></g><g fill="#1212cc" stroke="#1212cc" stroke-width="0.28"><text x="166.8" y="560.3" font-family="Liberation Serif" font-size="8.3">140.115</text><text x="213.1" y="560.2" font-family="Liberation Sans" font-size="12.8" stroke-width="0.28" text-anchor="end" fill="#1212cc" stroke="#1212cc">58</text><text x="166.8" y="592.1" font-family="Liberation Serif" font-size="8.3">6.78</text><text x="166.8" y="600.5" font-family="Liberation Serif" font-size="9.35">Cerium</text></g><g fill="#1212cc" stroke="#1212cc" stroke-width="0.2"><text x="212.5" y="578.4" font-family="Liberation Sans" font-size="14.6" font-weight="bold" text-anchor="end">Ce</text><text x="166.8" y="579.1" font-family="'Liberation Serif','Noto Serif CJK SC',serif" font-size="15" font-weight="bold" stroke-width="0.3">铈</text></g><g fill="#1212cc" stroke="#1212cc" stroke-width="0.28"><text x="218.4" y="560.3" font-family="Liberation Serif" font-size="8.3">140.908</text><text x="264.7" y="560.2" font-family="Liberation Sans" font-size="12.8" stroke-width="0.28" text-anchor="end" fill="#1212cc" stroke="#1212cc">59</text><text x="218.4" y="592.1" font-family="Liberation Serif" font-size="8.3">6.77</text><text x="246.7" y="592.3" font-family="Liberation Serif" font-size="9">m</text><text x="218.4" y="600.5" font-family="Liberation Serif" font-size="9.35" textLength="47.3" lengthAdjust="spacingAndGlyphs">Praseodymiu</text></g><g fill="#1212cc" stroke="#1212cc" stroke-width="0.2"><text x="267.1" y="578.4" font-family="Liberation Sans" font-size="14.6" font-weight="bold" text-anchor="end">Pr</text><text x="218.4" y="579.1" font-family="'Liberation Serif','Noto Serif CJK SC',serif" font-size="15" font-weight="bold" stroke-width="0.3">镨</text></g><g fill="#1212cc" stroke="#1212cc" stroke-width="0.28"><text x="269.9" y="560.3" font-family="Liberation Serif" font-size="8.3">144.24</text><text x="316.2" y="560.2" font-family="Liberation Sans" font-size="12.8" stroke-width="0.28" text-anchor="end" fill="#1212cc" stroke="#1212cc">60</text><text x="269.9" y="592.1" font-family="Liberation Serif" font-size="8.3">7.00</text><text x="269.9" y="600.5" font-family="Liberation Serif" font-size="9.35">Neodymium</text></g><g fill="#1212cc" stroke="#1212cc" stroke-width="0.2"><text x="318.4" y="578.4" font-family="Liberation Sans" font-size="14.6" font-weight="bold" text-anchor="end">Nd</text><text x="269.9" y="579.1" font-family="'Liberation Serif','Noto Serif CJK SC',serif" font-size="15" font-weight="bold" stroke-width="0.3">钕</text></g><g fill="#1212cc" stroke="#1212cc" stroke-width="0.28"><text x="321.4" y="560.3" font-family="Liberation Serif" font-size="8.3">(144.91)</text><text x="367.7" y="560.2" font-family="Liberation Sans" font-size="12.8" stroke-width="0.28" text-anchor="end" fill="#1212cc" stroke="#1212cc">61</text><text x="321.4" y="592.1" font-family="Liberation Serif" font-size="8.3">6.475</text><text x="321.4" y="600.5" font-family="Liberation Serif" font-size="9.35">Promethium</text></g><g fill="#1212cc" stroke="#1212cc" stroke-width="0.2"><text x="369.1" y="578.4" font-family="Liberation Sans" font-size="14.6" font-weight="bold" text-anchor="end">Pm</text><text x="321.4" y="579.1" font-family="'Liberation Serif','Noto Serif CJK SC',serif" font-size="15" font-weight="bold" stroke-width="0.3">钷</text></g><g fill="#1212cc" stroke="#1212cc" stroke-width="0.28"><text x="373" y="560.3" font-family="Liberation Serif" font-size="8.3">150.36</text><text x="419.3" y="560.2" font-family="Liberation Sans" font-size="12.8" stroke-width="0.28" text-anchor="end" fill="#1212cc" stroke="#1212cc">62</text><text x="373" y="592.1" font-family="Liberation Serif" font-size="8.3">7.54</text><text x="373" y="600.5" font-family="Liberation Serif" font-size="9.35">Samarium</text></g><g fill="#1212cc" stroke="#1212cc" stroke-width="0.2"><text x="420.8" y="578.4" font-family="Liberation Sans" font-size="14.6" font-weight="bold" text-anchor="end">Sm</text><text x="373" y="579.1" font-family="'Liberation Serif','Noto Serif CJK SC',serif" font-size="15" font-weight="bold" stroke-width="0.3">钐</text></g><g fill="#1212cc" stroke="#1212cc" stroke-width="0.28"><text x="424.5" y="560.3" font-family="Liberation Serif" font-size="8.3">151.965</text><text x="470.8" y="560.2" font-family="Liberation Sans" font-size="12.8" stroke-width="0.28" text-anchor="end" fill="#1212cc" stroke="#1212cc">63</text><text x="424.5" y="592.1" font-family="Liberation Serif" font-size="8.3">5.26</text><text x="424.5" y="600.5" font-family="Liberation Serif" font-size="9.35"><tspan font-size="7.2">E</tspan>uropium</text></g><g fill="#1212cc" stroke="#1212cc" stroke-width="0.2"><text x="472.4" y="578.4" font-family="Liberation Sans" font-size="14.6" font-weight="bold" text-anchor="end">Eu</text><text x="424.5" y="579.1" font-family="'Liberation Serif','Noto Serif CJK SC',serif" font-size="15" font-weight="bold" stroke-width="0.3">铕</text></g><g fill="#1212cc" stroke="#1212cc" stroke-width="0.28"><text x="476.1" y="560.3" font-family="Liberation Serif" font-size="8.3">157.25</text><text x="522.4" y="560.2" font-family="Liberation Sans" font-size="12.8" stroke-width="0.28" text-anchor="end" fill="#1212cc" stroke="#1212cc">64</text><text x="476.1" y="592.1" font-family="Liberation Serif" font-size="8.3">7.89</text><text x="476.1" y="600.5" font-family="Liberation Serif" font-size="9.35">Gadolinium</text></g><g fill="#1212cc" stroke="#1212cc" stroke-width="0.2"><text x="524.9" y="578.4" font-family="Liberation Sans" font-size="14.6" font-weight="bold" text-anchor="end">Gd</text><text x="476.1" y="579.1" font-family="'Liberation Serif','Noto Serif CJK SC',serif" font-size="15" font-weight="bold" stroke-width="0.3">钆</text></g><g fill="#1212cc" stroke="#1212cc" stroke-width="0.28"><text x="527.6" y="560.3" font-family="Liberation Serif" font-size="8.3">158.925</text><text x="573.9" y="560.2" font-family="Liberation Sans" font-size="12.8" stroke-width="0.28" text-anchor="end" fill="#1212cc" stroke="#1212cc">65</text><text x="527.6" y="592.1" font-family="Liberation Serif" font-size="8.3">8.27</text><text x="527.6" y="600.5" font-family="Liberation Serif" font-size="9.35">Terbium</text></g><g fill="#1212cc" stroke="#1212cc" stroke-width="0.2"><text x="573.1" y="578.4" font-family="Liberation Sans" font-size="14.6" font-weight="bold" text-anchor="end">Tb</text><text x="527.6" y="579.1" font-family="'Liberation Serif','Noto Serif CJK SC',serif" font-size="15" font-weight="bold" stroke-width="0.3">铽</text></g><g fill="#1212cc" stroke="#1212cc" stroke-width="0.28"><text x="579.1" y="560.3" font-family="Liberation Serif" font-size="8.3">162.50</text><text x="625.4" y="560.2" font-family="Liberation Sans" font-size="12.8" stroke-width="0.28" text-anchor="end" fill="#1212cc" stroke="#1212cc">66</text><text x="579.1" y="592.1" font-family="Liberation Serif" font-size="8.3">8.54</text><text x="579.1" y="600.5" font-family="Liberation Serif" font-size="9.35"><tspan font-size="7.2">DY</tspan>sprosium</text></g><g fill="#1212cc" stroke="#1212cc" stroke-width="0.2"><text x="625.8" y="578.4" font-family="Liberation Sans" font-size="14.6" font-weight="bold" text-anchor="end">Dy</text><text x="579.1" y="579.1" font-family="'Liberation Serif','Noto Serif CJK SC',serif" font-size="15" font-weight="bold" stroke-width="0.3">镝</text></g><g fill="#1212cc" stroke="#1212cc" stroke-width="0.28"><text x="630.7" y="560.3" font-family="Liberation Serif" font-size="8.3">164.930</text><text x="677" y="560.2" font-family="Liberation Sans" font-size="12.8" stroke-width="0.28" text-anchor="end" fill="#1212cc" stroke="#1212cc">67</text><text x="630.7" y="592.1" font-family="Liberation Serif" font-size="8.3">8.80</text><text x="630.7" y="600.5" font-family="Liberation Serif" font-size="9.35">Holmium</text></g><g fill="#1212cc" stroke="#1212cc" stroke-width="0.2"><text x="678" y="578.4" font-family="Liberation Sans" font-size="14.6" font-weight="bold" text-anchor="end">Ho</text><text x="630.7" y="579.1" font-family="'Liberation Serif','Noto Serif CJK SC',serif" font-size="15" font-weight="bold" stroke-width="0.3">钬</text></g><g fill="#1212cc" stroke="#1212cc" stroke-width="0.28"><text x="682.2" y="560.3" font-family="Liberation Serif" font-size="8.3">167.26</text><text x="728.5" y="560.2" font-family="Liberation Sans" font-size="12.8" stroke-width="0.28" text-anchor="end" fill="#1212cc" stroke="#1212cc">68</text><text x="682.2" y="592.1" font-family="Liberation Serif" font-size="8.3">9.05</text><text x="682.2" y="600.5" font-family="Liberation Serif" font-size="9.35"><tspan font-size="7.2">E</tspan>rbium</text></g><g fill="#1212cc" stroke="#1212cc" stroke-width="0.2"><text x="729.7" y="578.4" font-family="Liberation Sans" font-size="14.6" font-weight="bold" text-anchor="end">Er</text><text x="682.2" y="579.1" font-family="'Liberation Serif','Noto Serif CJK SC',serif" font-size="15" font-weight="bold" stroke-width="0.3">铒</text></g><g fill="#1212cc" stroke="#1212cc" stroke-width="0.28"><text x="733.8" y="560.3" font-family="Liberation Serif" font-size="8.3">168.934</text><text x="780.1" y="560.2" font-family="Liberation Sans" font-size="12.8" stroke-width="0.28" text-anchor="end" fill="#1212cc" stroke="#1212cc">69</text><text x="733.8" y="592.1" font-family="Liberation Serif" font-size="8.3">9.33</text><text x="733.8" y="600.5" font-family="Liberation Serif" font-size="9.35">Thulium</text></g><g fill="#1212cc" stroke="#1212cc" stroke-width="0.2"><text x="780.4" y="578.4" font-family="Liberation Sans" font-size="14.6" font-weight="bold" text-anchor="end">Tm</text><text x="733.8" y="579.1" font-family="'Liberation Serif','Noto Serif CJK SC',serif" font-size="15" font-weight="bold" stroke-width="0.3">铥</text></g><g fill="#1212cc" stroke="#1212cc" stroke-width="0.28"><text x="785.3" y="560.3" font-family="Liberation Serif" font-size="8.3">173.04</text><text x="831.6" y="560.2" font-family="Liberation Sans" font-size="12.8" stroke-width="0.28" text-anchor="end" fill="#1212cc" stroke="#1212cc">70</text><text x="785.3" y="592.1" font-family="Liberation Serif" font-size="8.3">6.98</text><text x="785.3" y="600.5" font-family="Liberation Serif" font-size="9.35">Ytterbium</text></g><g fill="#1212cc" stroke="#1212cc" stroke-width="0.2"><text x="832.6" y="578.4" font-family="Liberation Sans" font-size="14.6" font-weight="bold" text-anchor="end">Yb</text><text x="785.3" y="579.1" font-family="'Liberation Serif','Noto Serif CJK SC',serif" font-size="15" font-weight="bold" stroke-width="0.3">镱</text></g><g fill="#1212cc" stroke="#1212cc" stroke-width="0.28"><text x="836.8" y="560.3" font-family="Liberation Serif" font-size="8.3">174.967</text><text x="883.1" y="560.2" font-family="Liberation Sans" font-size="12.8" stroke-width="0.28" text-anchor="end" fill="#1212cc" stroke="#1212cc">71</text><text x="836.8" y="592.1" font-family="Liberation Serif" font-size="8.3">9.84</text><text x="836.8" y="600.5" font-family="Liberation Serif" font-size="9.35">Lutetium</text></g><g fill="#1212cc" stroke="#1212cc" stroke-width="0.2"><text x="884.2" y="578.4" font-family="Liberation Sans" font-size="14.6" font-weight="bold" text-anchor="end">Lu</text><text x="836.8" y="579.1" font-family="'Liberation Serif','Noto Serif CJK SC',serif" font-size="15" font-weight="bold" stroke-width="0.3">镥</text></g><g fill="#1212cc" stroke="#1212cc" stroke-width="0.28"><text x="166.8" y="616.9" font-family="Liberation Serif" font-size="8.3">232.038</text><text x="213.1" y="616.8" font-family="Liberation Sans" font-size="12.8" stroke-width="0.28" text-anchor="end" fill="#1212cc" stroke="#1212cc">90</text><text x="166.8" y="648.7" font-family="Liberation Serif" font-size="8.3">11.7</text><text x="166.8" y="657.1" font-family="Liberation Serif" font-size="9.35">Thorium</text></g><g fill="#1212cc" stroke="#1212cc" stroke-width="0.2"><text x="213.4" y="635" font-family="Liberation Sans" font-size="14.6" font-weight="bold" text-anchor="end">Th</text><text x="166.8" y="635.7" font-family="'Liberation Serif','Noto Serif CJK SC',serif" font-size="15" font-weight="bold" stroke-width="0.3">钍</text></g><g fill="#1212cc" stroke="#1212cc" stroke-width="0.28"><text x="218.4" y="616.9" font-family="Liberation Serif" font-size="8.3">(231.04)</text><text x="264.7" y="616.8" font-family="Liberation Sans" font-size="12.8" stroke-width="0.28" text-anchor="end" fill="#1212cc" stroke="#1212cc">91</text><text x="218.4" y="648.7" font-family="Liberation Serif" font-size="8.3">15.4</text><text x="218.4" y="657.1" font-family="Liberation Serif" font-size="9.35">Protactinium</text></g><g fill="#1212cc" stroke="#1212cc" stroke-width="0.2"><text x="263.8" y="635" font-family="Liberation Sans" font-size="14.6" font-weight="bold" text-anchor="end">Pa</text><text x="218.4" y="635.7" font-family="'Liberation Serif','Noto Serif CJK SC',serif" font-size="15" font-weight="bold" stroke-width="0.3">镤</text></g><g fill="#4a14b8" stroke="#4a14b8" stroke-width="0.28"><text x="269.9" y="616.9" font-family="Liberation Serif" font-size="8.3">(238.05)</text><text x="316.2" y="616.8" font-family="Liberation Sans" font-size="12.8" stroke-width="0.28" text-anchor="end" fill="#3a12c0" stroke="#3a12c0">92</text><text x="269.9" y="648.7" font-family="Liberation Serif" font-size="8.3">19.07</text><text x="269.9" y="657.1" font-family="Liberation Serif" font-size="9.35">Uranium</text></g><g fill="#2c10c4" stroke="#2c10c4" stroke-width="0.2"><text x="317.3" y="635" font-family="Liberation Sans" font-size="14.6" font-weight="bold" text-anchor="end">U</text><text x="269.9" y="635.7" font-family="'Liberation Serif','Noto Serif CJK SC',serif" font-size="15" font-weight="bold" stroke-width="0.3">铀</text></g><g fill="#1212cc" stroke="#1212cc" stroke-width="0.28"><text x="321.4" y="616.9" font-family="Liberation Serif" font-size="8.3">(237.05)</text><text x="367.7" y="616.8" font-family="Liberation Sans" font-size="12.8" stroke-width="0.28" text-anchor="end" fill="#1212cc" stroke="#1212cc">93</text><text x="321.4" y="648.7" font-family="Liberation Serif" font-size="8.3">20.4</text><text x="321.4" y="657.1" font-family="Liberation Serif" font-size="9.35">Neptunium</text></g><g fill="#1212cc" stroke="#1212cc" stroke-width="0.2"><text x="368.8" y="635" font-family="Liberation Sans" font-size="14.6" font-weight="bold" text-anchor="end">Np</text><text x="321.4" y="635.7" font-family="'Liberation Serif','Noto Serif CJK SC',serif" font-size="15" font-weight="bold" stroke-width="0.3">镎</text></g><g fill="#1212cc" stroke="#1212cc" stroke-width="0.28"><text x="373" y="616.9" font-family="Liberation Serif" font-size="8.3">(244.06)</text><text x="419.3" y="616.8" font-family="Liberation Sans" font-size="12.8" stroke-width="0.28" text-anchor="end" fill="#1212cc" stroke="#1212cc">94</text><text x="373" y="648.7" font-family="Liberation Serif" font-size="8.3">19.8</text><text x="373" y="657.1" font-family="Liberation Serif" font-size="9.35">Plutonium</text></g><g fill="#1212cc" stroke="#1212cc" stroke-width="0.2"><text x="420.9" y="635" font-family="Liberation Sans" font-size="14.6" font-weight="bold" text-anchor="end">Pu</text><text x="373" y="635.7" font-family="'Liberation Serif','Noto Serif CJK SC',serif" font-size="15" font-weight="bold" stroke-width="0.3">钚</text></g><g fill="#1212cc" stroke="#1212cc" stroke-width="0.28"><text x="424.5" y="616.9" font-family="Liberation Serif" font-size="8.3">(243.06)</text><text x="470.8" y="616.8" font-family="Liberation Sans" font-size="12.8" stroke-width="0.28" text-anchor="end" fill="#1212cc" stroke="#1212cc">95</text><text x="424.5" y="648.7" font-family="Liberation Serif" font-size="8.3">13.6</text><text x="424.5" y="657.1" font-family="Liberation Serif" font-size="9.35">Americium</text></g><g fill="#1212cc" stroke="#1212cc" stroke-width="0.2"><text x="472.3" y="635" font-family="Liberation Sans" font-size="14.6" font-weight="bold" text-anchor="end">Am</text><text x="424.5" y="635.7" font-family="'Liberation Serif','Noto Serif CJK SC',serif" font-size="15" font-weight="bold" stroke-width="0.3">镅</text></g><g fill="#1212cc" stroke="#1212cc" stroke-width="0.28"><text x="476.1" y="616.9" font-family="Liberation Serif" font-size="8.3">(247.07)</text><text x="522.4" y="616.8" font-family="Liberation Sans" font-size="12.8" stroke-width="0.28" text-anchor="end" fill="#1212cc" stroke="#1212cc">96</text><text x="476.1" y="648.7" font-family="Liberation Serif" font-size="8.3">13.511</text><text x="476.1" y="657.1" font-family="Liberation Serif" font-size="9.35">Curium</text></g><g fill="#1212cc" stroke="#1212cc" stroke-width="0.2"><text x="524.1" y="635" font-family="Liberation Sans" font-size="14.6" font-weight="bold" text-anchor="end">Cm</text><text x="476.1" y="635.7" font-family="'Liberation Serif','Noto Serif CJK SC',serif" font-size="15" font-weight="bold" stroke-width="0.3">锔</text></g><g fill="#1212cc" stroke="#1212cc" stroke-width="0.28"><text x="527.6" y="616.9" font-family="Liberation Serif" font-size="8.3">(247.07)</text><text x="573.9" y="616.8" font-family="Liberation Sans" font-size="12.8" stroke-width="0.28" text-anchor="end" fill="#1212cc" stroke="#1212cc">97</text><text x="527.6" y="648.7" font-family="Liberation Serif" font-size="8.3">--</text><text x="527.6" y="657.1" font-family="Liberation Serif" font-size="9.35">Berkelium</text></g><g fill="#1212cc" stroke="#1212cc" stroke-width="0.2"><text x="574.5" y="635" font-family="Liberation Sans" font-size="14.6" font-weight="bold" text-anchor="end">Bk</text><text x="527.6" y="635.7" font-family="'Liberation Serif','Noto Serif CJK SC',serif" font-size="15" font-weight="bold" stroke-width="0.3">锫</text></g><g fill="#1212cc" stroke="#1212cc" stroke-width="0.28"><text x="579.1" y="616.9" font-family="Liberation Serif" font-size="8.3">(242.06)</text><text x="625.4" y="616.8" font-family="Liberation Sans" font-size="12.8" stroke-width="0.28" text-anchor="end" fill="#1212cc" stroke="#1212cc">98</text><text x="579.1" y="648.7" font-family="Liberation Serif" font-size="8.3">--</text><text x="579.1" y="657.1" font-family="Liberation Serif" font-size="9.35">Californium</text></g><g fill="#1212cc" stroke="#1212cc" stroke-width="0.2"><text x="627" y="635" font-family="Liberation Sans" font-size="14.6" font-weight="bold" text-anchor="end">Cf</text><text x="579.1" y="635.7" font-family="'Liberation Serif','Noto Serif CJK SC',serif" font-size="15" font-weight="bold" stroke-width="0.3">锎</text></g><g fill="#1212cc" stroke="#1212cc" stroke-width="0.28"><text x="630.7" y="616.9" font-family="Liberation Serif" font-size="8.3">(252.08)</text><text x="677" y="616.8" font-family="Liberation Sans" font-size="12.8" stroke-width="0.28" text-anchor="end" fill="#1212cc" stroke="#1212cc">99</text><text x="630.7" y="648.7" font-family="Liberation Serif" font-size="8.3">--</text><text x="630.7" y="657.1" font-family="Liberation Serif" font-size="9.35"><tspan font-size="7.2">E</tspan>insteinium</text></g><g fill="#1212cc" stroke="#1212cc" stroke-width="0.2"><text x="675.6" y="635" font-family="Liberation Sans" font-size="14.6" font-weight="bold" text-anchor="end">Es</text><text x="630.7" y="635.7" font-family="'Liberation Serif','Noto Serif CJK SC',serif" font-size="15" font-weight="bold" stroke-width="0.3">锿</text></g><g fill="#1212cc" stroke="#1212cc" stroke-width="0.28"><text x="682.2" y="616.9" font-family="Liberation Serif" font-size="8.3">(257.)</text><text x="728.5" y="616.8" font-family="Liberation Sans" font-size="12.8" stroke-width="0.28" text-anchor="end" fill="#1212cc" stroke="#1212cc">100</text><text x="682.2" y="648.7" font-family="Liberation Serif" font-size="8.3">--</text><text x="682.2" y="657.1" font-family="Liberation Serif" font-size="9.35">Fermium</text></g><g fill="#1212cc" stroke="#1212cc" stroke-width="0.2"><text x="729.1" y="635" font-family="Liberation Sans" font-size="14.6" font-weight="bold" text-anchor="end">Fm</text><text x="682.2" y="635.7" font-family="'Liberation Serif','Noto Serif CJK SC',serif" font-size="15" font-weight="bold" stroke-width="0.3">镄</text></g><g fill="#1212cc" stroke="#1212cc" stroke-width="0.28"><text x="733.8" y="616.9" font-family="Liberation Serif" font-size="8.3">(258.)</text><text x="780.1" y="616.8" font-family="Liberation Sans" font-size="12.8" stroke-width="0.28" text-anchor="end" fill="#1212cc" stroke="#1212cc">101</text><text x="733.8" y="648.7" font-family="Liberation Serif" font-size="8.3">--</text><text x="771.3" y="648.9" font-family="Liberation Serif" font-size="9">m</text><text x="733.8" y="657.1" font-family="Liberation Serif" font-size="9.35" textLength="44" lengthAdjust="spacingAndGlyphs">Mendeleviu</text></g><g fill="#1212cc" stroke="#1212cc" stroke-width="0.2"><text x="783.5" y="635" font-family="Liberation Sans" font-size="14.6" font-weight="bold" text-anchor="end">Md</text><text x="733.8" y="635.7" font-family="'Liberation Serif','Noto Serif CJK SC',serif" font-size="15" font-weight="bold" stroke-width="0.3">钔</text></g><g fill="#1212cc" stroke="#1212cc" stroke-width="0.28"><text x="785.3" y="616.9" font-family="Liberation Serif" font-size="8.3">(259.)</text><text x="831.6" y="616.8" font-family="Liberation Sans" font-size="12.8" stroke-width="0.28" text-anchor="end" fill="#1212cc" stroke="#1212cc">102</text><text x="785.3" y="648.7" font-family="Liberation Serif" font-size="8.3">--</text><text x="785.3" y="657.1" font-family="Liberation Serif" font-size="9.35">Nobelium</text></g><g fill="#1212cc" stroke="#1212cc" stroke-width="0.2"><text x="832.6" y="635" font-family="Liberation Sans" font-size="14.6" font-weight="bold" text-anchor="end">No</text><text x="785.3" y="635.7" font-family="'Liberation Serif','Noto Serif CJK SC',serif" font-size="15" font-weight="bold" stroke-width="0.3">锘</text></g><g fill="#1212cc" stroke="#1212cc" stroke-width="0.28"><text x="836.8" y="616.9" font-family="Liberation Serif" font-size="8.3">(260.)</text><text x="883.1" y="616.8" font-family="Liberation Sans" font-size="12.8" stroke-width="0.28" text-anchor="end" fill="#1212cc" stroke="#1212cc">103</text><text x="836.8" y="648.7" font-family="Liberation Serif" font-size="8.3">--</text><text x="836.8" y="657.1" font-family="Liberation Serif" font-size="9.35">Lawrencium</text></g><g fill="#1212cc" stroke="#1212cc" stroke-width="0.2"><text x="882.3" y="635" font-family="Liberation Sans" font-size="14.6" font-weight="normal" text-anchor="end">Lr</text><text x="836.8" y="635.7" font-family="'Liberation Serif','Noto Serif CJK SC',serif" font-size="15" font-weight="bold" stroke-width="0.3">铹</text></g><rect x="320.1" y="199.4" width="51.5" height="58" fill="#fff" stroke="#333333" stroke-width="1"/><g fill="#ee22ee" stroke="#ee22ee" stroke-width="0.28"><text x="321.4" y="212" font-family="Liberation Serif" font-size="8.3">55.847</text><text x="367.7" y="211.9" font-family="Liberation Sans" font-size="12.8" stroke-width="0.28" text-anchor="end" fill="#ee22ee" stroke="#ee22ee">26</text><text x="321.4" y="243.8" font-family="Liberation Serif" font-size="8.3">7.86</text><text x="321.4" y="252.2" font-family="Liberation Serif" font-size="9.35">Iron</text></g><g fill="#ee22ee" stroke="#ee22ee" stroke-width="0.2"><text x="366.9" y="230.1" font-family="Liberation Sans" font-size="14.6" font-weight="bold" text-anchor="end">Fe</text><text x="321.4" y="230.8" font-family="'Liberation Serif','Noto Serif CJK SC',serif" font-size="15" font-weight="bold" stroke-width="0.3">铁</text></g><text x="36.7" y="117" font-family="Liberation Sans" font-size="10" font-weight="bold" text-anchor="middle" fill="#000">1</text><text x="36.7" y="128.8" font-family="Liberation Sans" font-size="10" font-weight="bold" text-anchor="middle" fill="#000" >IA</text><text x="36.7" y="140.6" font-family="Liberation Sans" font-size="10" font-weight="bold" text-anchor="middle" fill="#000" >IA</text><text x="912.8" y="117" font-family="Liberation Sans" font-size="10" font-weight="bold" text-anchor="middle" fill="#000">18</text><text x="912.8" y="128.8" font-family="Liberation Sans" font-size="10" font-weight="bold" text-anchor="middle" fill="#000" >VIII</text><text x="912.8" y="140.6" font-family="Liberation Sans" font-size="10" font-weight="bold" text-anchor="middle" fill="#000" >0</text><text x="88.2" y="164.5" font-family="Liberation Serif" font-size="11" font-weight="bold" text-anchor="middle" fill="#000">2</text><text x="88.2" y="176.3" font-family="Liberation Sans" font-size="10" font-weight="bold" text-anchor="middle" fill="#000" >IIA</text><text x="88.2" y="188.1" font-family="Liberation Sans" font-size="10" font-weight="bold" text-anchor="middle" fill="#000" >IIA</text><text x="655.1" y="164.5" font-family="Liberation Sans" font-size="10" font-weight="bold" text-anchor="middle" fill="#000">13</text><text x="655.1" y="176.3" font-family="Liberation Sans" font-size="10" font-weight="bold" text-anchor="middle" fill="#000" >IIIB</text><text x="655.1" y="188.1" font-family="Liberation Sans" font-size="10" font-weight="bold" text-anchor="middle" fill="#000" >IIIA</text><text x="706.7" y="164.5" font-family="Liberation Sans" font-size="10" font-weight="bold" text-anchor="middle" fill="#000">14</text><text x="706.7" y="176.3" font-family="Liberation Sans" font-size="10" font-weight="bold" text-anchor="middle" fill="#000" >IVB</text><text x="706.7" y="188.1" font-family="Liberation Sans" font-size="10" font-weight="bold" text-anchor="middle" fill="#000" >IVA</text><text x="758.2" y="164.5" font-family="Liberation Sans" font-size="10" font-weight="bold" text-anchor="middle" fill="#000">15</text><text x="758.2" y="176.3" font-family="Liberation Sans" font-size="10" font-weight="bold" text-anchor="middle" fill="#000" >VB</text><text x="758.2" y="188.1" font-family="Liberation Sans" font-size="10" font-weight="bold" text-anchor="middle" fill="#000" >VA</text><text x="809.8" y="164.5" font-family="Liberation Sans" font-size="10" font-weight="bold" text-anchor="middle" fill="#000">16</text><text x="809.8" y="176.3" font-family="Liberation Sans" font-size="10" font-weight="bold" text-anchor="middle" fill="#000" >VIB</text><text x="809.8" y="188.1" font-family="Liberation Sans" font-size="10" font-weight="bold" text-anchor="middle" fill="#000" >VIA</text><text x="861.3" y="164.5" font-family="Liberation Sans" font-size="10" font-weight="bold" text-anchor="middle" fill="#000">17</text><text x="861.3" y="176.3" font-family="Liberation Sans" font-size="10" font-weight="bold" text-anchor="middle" fill="#000" >VIIB</text><text x="861.3" y="188.1" font-family="Liberation Sans" font-size="10" font-weight="bold" text-anchor="middle" fill="#000" >VIIA</text><text x="139.8" y="278" font-family="Liberation Serif" font-size="11" font-weight="bold" text-anchor="middle" fill="#000">3</text><text x="139.8" y="289.8" font-family="Liberation Sans" font-size="10" font-weight="bold" text-anchor="middle" fill="#000" >IIIA</text><text x="139.8" y="301.6" font-family="Liberation Sans" font-size="10" font-weight="bold" text-anchor="middle" fill="#000" >IIIB</text><text x="191.3" y="278" font-family="Liberation Serif" font-size="11" font-weight="bold" text-anchor="middle" fill="#000">4</text><text x="191.3" y="289.8" font-family="Liberation Sans" font-size="10" font-weight="bold" text-anchor="middle" fill="#000" >IVA</text><text x="191.3" y="301.6" font-family="Liberation Sans" font-size="10" font-weight="bold" text-anchor="middle" fill="#000" >IVB</text><text x="242.8" y="278" font-family="Liberation Serif" font-size="11" font-weight="bold" text-anchor="middle" fill="#000">5</text><text x="242.8" y="289.8" font-family="Liberation Sans" font-size="10" font-weight="bold" text-anchor="middle" fill="#000" >VA</text><text x="242.8" y="301.6" font-family="Liberation Sans" font-size="10" font-weight="bold" text-anchor="middle" fill="#000" >VB</text><text x="294.4" y="278" font-family="Liberation Serif" font-size="11" font-weight="bold" text-anchor="middle" fill="#000">6</text><text x="294.4" y="289.8" font-family="Liberation Sans" font-size="10" font-weight="bold" text-anchor="middle" fill="#000" >VIA</text><text x="294.4" y="301.6" font-family="Liberation Sans" font-size="10" font-weight="bold" text-anchor="middle" fill="#000" >VIB</text><text x="345.9" y="278" font-family="Liberation Serif" font-size="11" font-weight="bold" text-anchor="middle" fill="#000">7</text><text x="345.9" y="289.8" font-family="Liberation Sans" font-size="10" font-weight="bold" text-anchor="middle" fill="#000" >VIIA</text><text x="345.9" y="301.6" font-family="Liberation Sans" font-size="10" font-weight="bold" text-anchor="middle" fill="#000" >VIIB</text><text x="397.4" y="278" font-family="Liberation Serif" font-size="11" font-weight="bold" text-anchor="middle" fill="#000">8</text><text x="449" y="278" font-family="Liberation Serif" font-size="11" font-weight="bold" text-anchor="middle" fill="#000">9</text><text x="449" y="289.8" font-family="Liberation Sans" font-size="10" font-weight="bold" text-anchor="middle" fill="#000" >VIIIA</text><text x="449" y="301.6" font-family="Liberation Sans" font-size="10" font-weight="bold" text-anchor="middle" fill="#000" >VIII</text><text x="500.5" y="278" font-family="Liberation Serif" font-size="11" font-weight="bold" text-anchor="middle" fill="#000">10</text><text x="552.1" y="278" font-family="Liberation Serif" font-size="11" font-weight="bold" text-anchor="middle" fill="#000">11</text><text x="552.1" y="289.8" font-family="Liberation Sans" font-size="10" font-weight="bold" text-anchor="middle" fill="#000" >IB</text><text x="552.1" y="301.6" font-family="Liberation Sans" font-size="10" font-weight="bold" text-anchor="middle" fill="#000" >IB</text><text x="603.6" y="278" font-family="Liberation Serif" font-size="11" font-weight="bold" text-anchor="middle" fill="#000">12</text><text x="603.6" y="289.8" font-family="Liberation Sans" font-size="10" font-weight="bold" text-anchor="middle" fill="#000" >IIB</text><text x="603.6" y="301.6" font-family="Liberation Sans" font-size="10" font-weight="bold" text-anchor="middle" fill="#000" >IIB</text><text x="345.9" y="164.5" font-family="Liberation Serif" font-size="11" font-weight="bold" text-anchor="middle" fill="#ee22ee">8</text><text x="345.9" y="176.3" font-family="Liberation Sans" font-size="10" font-weight="bold" text-anchor="middle" fill="#ee22ee" >VIIIA</text><text x="345.9" y="188.1" font-family="Liberation Sans" font-size="10" font-weight="bold" text-anchor="middle" fill="#ee22ee" >VIII</text><text x="267.5" y="164.5" font-family="Liberation Serif" font-size="10.05" font-weight="bold" text-anchor="end" fill="#ee22ee" stroke="#ee22ee" stroke-width="0.2">Atomic weight</text><text x="267.5" y="175.8" font-family="Liberation Serif" font-size="10.05" text-anchor="end" fill="#ee22ee" stroke="#ee22ee" stroke-width="0.2">()indicates longest-</text><text x="267.5" y="188" font-family="Liberation Serif" font-size="10.05" text-anchor="end" fill="#ee22ee" stroke="#ee22ee" stroke-width="0.2">lived isotope</text><text x="267.5" y="209.5" font-family="Liberation Serif" font-size="10.05" font-weight="bold" text-anchor="end" fill="#ee22ee" stroke="#ee22ee" stroke-width="0.2">Density (300K) (g/cm<tspan font-size="6.5" dy="-3.5">3</tspan><tspan dy="3.5">)</tspan></text><text x="267.5" y="221.5" font-family="Liberation Serif" font-size="10.05" font-weight="bold" text-anchor="end" fill="#ee22ee" stroke="#ee22ee" stroke-width="0.2">Gas-(273.15K,1atm)(g/L)</text><text x="267.5" y="244" font-family="Liberation Serif" font-size="10.05" font-weight="bold" text-anchor="end" fill="#ee22ee" stroke="#ee22ee" stroke-width="0.2">Name</text><text x="425" y="164.5" font-family="Liberation Serif" font-size="10.05" font-weight="bold" text-anchor="start" fill="#ee22ee" stroke="#ee22ee" stroke-width="0.2">Group</text><text x="425" y="176.5" font-family="Liberation Serif" font-size="10.05" font-weight="bold" text-anchor="start" fill="#ee22ee" stroke="#ee22ee" stroke-width="0.2">Classification</text><text x="425" y="209.5" font-family="Liberation Serif" font-size="10.05" font-weight="bold" text-anchor="start" fill="#ee22ee" stroke="#ee22ee" stroke-width="0.2">Atomic</text><text x="425" y="221.5" font-family="Liberation Serif" font-size="10.05" font-weight="bold" text-anchor="start" fill="#ee22ee" stroke="#ee22ee" stroke-width="0.2">number</text><text x="425" y="244" font-family="Liberation Serif" font-size="10.05" font-weight="bold" text-anchor="start" fill="#ee22ee" stroke="#ee22ee" stroke-width="0.2">Symbol</text><g stroke="#333" stroke-width="1.25" fill="none"><path d="M272 206.5 L320 225.5"/><path d="M272 243 L318 247.5"/><path d="M421 207 L373 209"/><path d="M419 237 L373 224.5"/><path d="M400.5 313 V301 L437 289"/><path d="M465 289 L500 301 V313"/></g><g fill="#222"><path d="M321 226 l-4.5 -0.3 l1.5 -3.3z"/><path d="M319.5 247.6 l-4 1.6 l0.4 -3.6z"/><path d="M372 209 l4 -2 l0.2 3.6z"/><path d="M372 224.2 l4.4 -0.6 l-1 3.4z"/></g><rect x="157.5" y="569" width="7" height="1.2" fill="#555"/><rect x="155" y="629" width="10" height="2.6" fill="#666"/><rect x="213.1" y="564.5" width="1.5" height="16.5" fill="#112"/><g fill="#f9c4d4"><rect x="13.5" y="638.5" width="2.5" height="2.5"/><rect x="20" y="638.5" width="3" height="2.5"/><rect x="27.5" y="638.5" width="3" height="2.5"/></g></svg>
</body></html>
